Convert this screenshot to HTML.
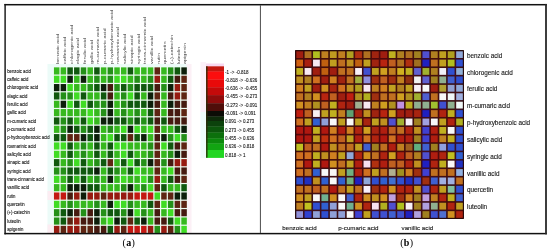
<!DOCTYPE html>
<html><head><meta charset="utf-8"><title>Correlation heatmaps</title>
<style>
html,body{margin:0;padding:0;background:#fff;}
body{width:550px;height:252px;overflow:hidden;}
svg{display:block;}
text{font-family:"Liberation Sans",Arial,sans-serif;fill:#1a1a1a;}
.rl{font-size:5.1px;stroke:#1a1a1a;stroke-width:0.12px;}
.cl{font-size:5.45px;fill:#3c3c3c;}
.lg{font-size:4.5px;stroke:#1a1a1a;stroke-width:0.1px;}
.rr{font-size:6.35px;stroke:#1a1a1a;stroke-width:0.12px;}
.rb{font-size:6.2px;stroke:#1a1a1a;stroke-width:0.12px;}
.cap{font-family:"Liberation Serif","Times New Roman",serif;font-size:10px;letter-spacing:0.35px;fill:#000;}
</style></head>
<body>
<svg width="550" height="252" viewBox="0 0 550 252">
<rect width="550" height="252" fill="#fff"/>
<rect x="47.5" y="64" width="142" height="169" fill="#ecfbf8"/>
<rect x="186.5" y="64" width="5" height="169" fill="#fcf0f6"/>
<rect x="47.5" y="191" width="6" height="9" fill="#fcecf2"/>
<rect x="47.5" y="224.5" width="6" height="8.5" fill="#fcecf2"/>
<rect x="200.5" y="62" width="5.5" height="50" fill="#fcf0f8"/>
<rect x="200.5" y="112" width="5.5" height="46" fill="#eefcfa"/>
<rect x="206" y="63.5" width="18" height="2.8" fill="#f8d8f0"/>
<rect x="53.34" y="66.76" width="134.08" height="166.24" fill="#eefcf2"/>
<rect x="53.94" y="67.36" width="5.5" height="7.14" fill="#36b81e"/>
<rect x="60.64" y="67.36" width="5.5" height="7.14" fill="#36b81e"/>
<rect x="67.35" y="67.36" width="5.5" height="7.14" fill="#10580e"/>
<rect x="74.05" y="67.36" width="5.5" height="7.14" fill="#10580e"/>
<rect x="80.76" y="67.36" width="5.5" height="7.14" fill="#249018"/>
<rect x="87.46" y="67.36" width="5.5" height="7.14" fill="#36b81e"/>
<rect x="94.16" y="67.36" width="5.5" height="7.14" fill="#10580e"/>
<rect x="100.87" y="67.36" width="5.5" height="7.14" fill="#36b81e"/>
<rect x="107.57" y="67.36" width="5.5" height="7.14" fill="#249018"/>
<rect x="114.28" y="67.36" width="5.5" height="7.14" fill="#36b81e"/>
<rect x="120.98" y="67.36" width="5.5" height="7.14" fill="#36b81e"/>
<rect x="127.68" y="67.36" width="5.5" height="7.14" fill="#10580e"/>
<rect x="134.39" y="67.36" width="5.5" height="7.14" fill="#36b81e"/>
<rect x="141.09" y="67.36" width="5.5" height="7.14" fill="#36b81e"/>
<rect x="147.8" y="67.36" width="5.5" height="7.14" fill="#36b81e"/>
<rect x="154.5" y="67.36" width="5.5" height="7.14" fill="#5e2412"/>
<rect x="161.2" y="67.36" width="5.5" height="7.14" fill="#36b81e"/>
<rect x="167.91" y="67.36" width="5.5" height="7.14" fill="#249018"/>
<rect x="174.61" y="67.36" width="5.5" height="7.14" fill="#10580e"/>
<rect x="181.32" y="67.36" width="5.5" height="7.14" fill="#0c1e0a"/>
<rect x="53.94" y="75.7" width="5.5" height="7.14" fill="#40dc24"/>
<rect x="60.64" y="75.7" width="5.5" height="7.14" fill="#40dc24"/>
<rect x="67.35" y="75.7" width="5.5" height="7.14" fill="#0c1e0a"/>
<rect x="74.05" y="75.7" width="5.5" height="7.14" fill="#36b81e"/>
<rect x="80.76" y="75.7" width="5.5" height="7.14" fill="#0c1e0a"/>
<rect x="87.46" y="75.7" width="5.5" height="7.14" fill="#36b81e"/>
<rect x="94.16" y="75.7" width="5.5" height="7.14" fill="#249018"/>
<rect x="100.87" y="75.7" width="5.5" height="7.14" fill="#36b81e"/>
<rect x="107.57" y="75.7" width="5.5" height="7.14" fill="#249018"/>
<rect x="114.28" y="75.7" width="5.5" height="7.14" fill="#40dc24"/>
<rect x="120.98" y="75.7" width="5.5" height="7.14" fill="#40dc24"/>
<rect x="127.68" y="75.7" width="5.5" height="7.14" fill="#36b81e"/>
<rect x="134.39" y="75.7" width="5.5" height="7.14" fill="#249018"/>
<rect x="141.09" y="75.7" width="5.5" height="7.14" fill="#36b81e"/>
<rect x="147.8" y="75.7" width="5.5" height="7.14" fill="#249018"/>
<rect x="154.5" y="75.7" width="5.5" height="7.14" fill="#961a10"/>
<rect x="161.2" y="75.7" width="5.5" height="7.14" fill="#36b81e"/>
<rect x="167.91" y="75.7" width="5.5" height="7.14" fill="#10580e"/>
<rect x="174.61" y="75.7" width="5.5" height="7.14" fill="#461a10"/>
<rect x="181.32" y="75.7" width="5.5" height="7.14" fill="#5e2412"/>
<rect x="53.94" y="84.04" width="5.5" height="7.14" fill="#0c1e0a"/>
<rect x="60.64" y="84.04" width="5.5" height="7.14" fill="#0c1e0a"/>
<rect x="67.35" y="84.04" width="5.5" height="7.14" fill="#40dc24"/>
<rect x="74.05" y="84.04" width="5.5" height="7.14" fill="#36b81e"/>
<rect x="80.76" y="84.04" width="5.5" height="7.14" fill="#36b81e"/>
<rect x="87.46" y="84.04" width="5.5" height="7.14" fill="#249018"/>
<rect x="94.16" y="84.04" width="5.5" height="7.14" fill="#10580e"/>
<rect x="100.87" y="84.04" width="5.5" height="7.14" fill="#0c1e0a"/>
<rect x="107.57" y="84.04" width="5.5" height="7.14" fill="#461a10"/>
<rect x="114.28" y="84.04" width="5.5" height="7.14" fill="#249018"/>
<rect x="120.98" y="84.04" width="5.5" height="7.14" fill="#10580e"/>
<rect x="127.68" y="84.04" width="5.5" height="7.14" fill="#249018"/>
<rect x="134.39" y="84.04" width="5.5" height="7.14" fill="#10580e"/>
<rect x="141.09" y="84.04" width="5.5" height="7.14" fill="#10580e"/>
<rect x="147.8" y="84.04" width="5.5" height="7.14" fill="#10580e"/>
<rect x="154.5" y="84.04" width="5.5" height="7.14" fill="#461a10"/>
<rect x="161.2" y="84.04" width="5.5" height="7.14" fill="#249018"/>
<rect x="167.91" y="84.04" width="5.5" height="7.14" fill="#0c1e0a"/>
<rect x="174.61" y="84.04" width="5.5" height="7.14" fill="#961a10"/>
<rect x="181.32" y="84.04" width="5.5" height="7.14" fill="#5e2412"/>
<rect x="53.94" y="92.38" width="5.5" height="7.14" fill="#10580e"/>
<rect x="60.64" y="92.38" width="5.5" height="7.14" fill="#249018"/>
<rect x="67.35" y="92.38" width="5.5" height="7.14" fill="#249018"/>
<rect x="74.05" y="92.38" width="5.5" height="7.14" fill="#40dc24"/>
<rect x="80.76" y="92.38" width="5.5" height="7.14" fill="#10580e"/>
<rect x="87.46" y="92.38" width="5.5" height="7.14" fill="#36b81e"/>
<rect x="94.16" y="92.38" width="5.5" height="7.14" fill="#36b81e"/>
<rect x="100.87" y="92.38" width="5.5" height="7.14" fill="#10580e"/>
<rect x="107.57" y="92.38" width="5.5" height="7.14" fill="#461a10"/>
<rect x="114.28" y="92.38" width="5.5" height="7.14" fill="#36b81e"/>
<rect x="120.98" y="92.38" width="5.5" height="7.14" fill="#249018"/>
<rect x="127.68" y="92.38" width="5.5" height="7.14" fill="#40dc24"/>
<rect x="134.39" y="92.38" width="5.5" height="7.14" fill="#10580e"/>
<rect x="141.09" y="92.38" width="5.5" height="7.14" fill="#36b81e"/>
<rect x="147.8" y="92.38" width="5.5" height="7.14" fill="#0c1e0a"/>
<rect x="154.5" y="92.38" width="5.5" height="7.14" fill="#5e2412"/>
<rect x="161.2" y="92.38" width="5.5" height="7.14" fill="#36b81e"/>
<rect x="167.91" y="92.38" width="5.5" height="7.14" fill="#461a10"/>
<rect x="174.61" y="92.38" width="5.5" height="7.14" fill="#961a10"/>
<rect x="181.32" y="92.38" width="5.5" height="7.14" fill="#5e2412"/>
<rect x="53.94" y="100.72" width="5.5" height="7.14" fill="#36b81e"/>
<rect x="60.64" y="100.72" width="5.5" height="7.14" fill="#0c1e0a"/>
<rect x="67.35" y="100.72" width="5.5" height="7.14" fill="#40dc24"/>
<rect x="74.05" y="100.72" width="5.5" height="7.14" fill="#10580e"/>
<rect x="80.76" y="100.72" width="5.5" height="7.14" fill="#40dc24"/>
<rect x="87.46" y="100.72" width="5.5" height="7.14" fill="#10580e"/>
<rect x="94.16" y="100.72" width="5.5" height="7.14" fill="#249018"/>
<rect x="100.87" y="100.72" width="5.5" height="7.14" fill="#249018"/>
<rect x="107.57" y="100.72" width="5.5" height="7.14" fill="#0c1e0a"/>
<rect x="114.28" y="100.72" width="5.5" height="7.14" fill="#36b81e"/>
<rect x="120.98" y="100.72" width="5.5" height="7.14" fill="#249018"/>
<rect x="127.68" y="100.72" width="5.5" height="7.14" fill="#10580e"/>
<rect x="134.39" y="100.72" width="5.5" height="7.14" fill="#10580e"/>
<rect x="141.09" y="100.72" width="5.5" height="7.14" fill="#10580e"/>
<rect x="147.8" y="100.72" width="5.5" height="7.14" fill="#0c1e0a"/>
<rect x="154.5" y="100.72" width="5.5" height="7.14" fill="#461a10"/>
<rect x="161.2" y="100.72" width="5.5" height="7.14" fill="#36b81e"/>
<rect x="167.91" y="100.72" width="5.5" height="7.14" fill="#0c1e0a"/>
<rect x="174.61" y="100.72" width="5.5" height="7.14" fill="#461a10"/>
<rect x="181.32" y="100.72" width="5.5" height="7.14" fill="#461a10"/>
<rect x="53.94" y="109.06" width="5.5" height="7.14" fill="#36b81e"/>
<rect x="60.64" y="109.06" width="5.5" height="7.14" fill="#36b81e"/>
<rect x="67.35" y="109.06" width="5.5" height="7.14" fill="#36b81e"/>
<rect x="74.05" y="109.06" width="5.5" height="7.14" fill="#36b81e"/>
<rect x="80.76" y="109.06" width="5.5" height="7.14" fill="#36b81e"/>
<rect x="87.46" y="109.06" width="5.5" height="7.14" fill="#40dc24"/>
<rect x="94.16" y="109.06" width="5.5" height="7.14" fill="#36b81e"/>
<rect x="100.87" y="109.06" width="5.5" height="7.14" fill="#249018"/>
<rect x="107.57" y="109.06" width="5.5" height="7.14" fill="#0c1e0a"/>
<rect x="114.28" y="109.06" width="5.5" height="7.14" fill="#36b81e"/>
<rect x="120.98" y="109.06" width="5.5" height="7.14" fill="#249018"/>
<rect x="127.68" y="109.06" width="5.5" height="7.14" fill="#36b81e"/>
<rect x="134.39" y="109.06" width="5.5" height="7.14" fill="#249018"/>
<rect x="141.09" y="109.06" width="5.5" height="7.14" fill="#36b81e"/>
<rect x="147.8" y="109.06" width="5.5" height="7.14" fill="#10580e"/>
<rect x="154.5" y="109.06" width="5.5" height="7.14" fill="#5e2412"/>
<rect x="161.2" y="109.06" width="5.5" height="7.14" fill="#36b81e"/>
<rect x="167.91" y="109.06" width="5.5" height="7.14" fill="#461a10"/>
<rect x="174.61" y="109.06" width="5.5" height="7.14" fill="#461a10"/>
<rect x="181.32" y="109.06" width="5.5" height="7.14" fill="#5e2412"/>
<rect x="53.94" y="117.4" width="5.5" height="7.14" fill="#10580e"/>
<rect x="60.64" y="117.4" width="5.5" height="7.14" fill="#249018"/>
<rect x="67.35" y="117.4" width="5.5" height="7.14" fill="#10580e"/>
<rect x="74.05" y="117.4" width="5.5" height="7.14" fill="#36b81e"/>
<rect x="80.76" y="117.4" width="5.5" height="7.14" fill="#10580e"/>
<rect x="87.46" y="117.4" width="5.5" height="7.14" fill="#40dc24"/>
<rect x="94.16" y="117.4" width="5.5" height="7.14" fill="#36b81e"/>
<rect x="100.87" y="117.4" width="5.5" height="7.14" fill="#0c1e0a"/>
<rect x="107.57" y="117.4" width="5.5" height="7.14" fill="#0c1e0a"/>
<rect x="114.28" y="117.4" width="5.5" height="7.14" fill="#10580e"/>
<rect x="120.98" y="117.4" width="5.5" height="7.14" fill="#10580e"/>
<rect x="127.68" y="117.4" width="5.5" height="7.14" fill="#249018"/>
<rect x="134.39" y="117.4" width="5.5" height="7.14" fill="#10580e"/>
<rect x="141.09" y="117.4" width="5.5" height="7.14" fill="#249018"/>
<rect x="147.8" y="117.4" width="5.5" height="7.14" fill="#10580e"/>
<rect x="154.5" y="117.4" width="5.5" height="7.14" fill="#461a10"/>
<rect x="161.2" y="117.4" width="5.5" height="7.14" fill="#10580e"/>
<rect x="167.91" y="117.4" width="5.5" height="7.14" fill="#461a10"/>
<rect x="174.61" y="117.4" width="5.5" height="7.14" fill="#461a10"/>
<rect x="181.32" y="117.4" width="5.5" height="7.14" fill="#461a10"/>
<rect x="53.94" y="125.74" width="5.5" height="7.14" fill="#36b81e"/>
<rect x="60.64" y="125.74" width="5.5" height="7.14" fill="#249018"/>
<rect x="67.35" y="125.74" width="5.5" height="7.14" fill="#0c1e0a"/>
<rect x="74.05" y="125.74" width="5.5" height="7.14" fill="#10580e"/>
<rect x="80.76" y="125.74" width="5.5" height="7.14" fill="#249018"/>
<rect x="87.46" y="125.74" width="5.5" height="7.14" fill="#10580e"/>
<rect x="94.16" y="125.74" width="5.5" height="7.14" fill="#0c1e0a"/>
<rect x="100.87" y="125.74" width="5.5" height="7.14" fill="#36b81e"/>
<rect x="107.57" y="125.74" width="5.5" height="7.14" fill="#249018"/>
<rect x="114.28" y="125.74" width="5.5" height="7.14" fill="#36b81e"/>
<rect x="120.98" y="125.74" width="5.5" height="7.14" fill="#40dc24"/>
<rect x="127.68" y="125.74" width="5.5" height="7.14" fill="#0c1e0a"/>
<rect x="134.39" y="125.74" width="5.5" height="7.14" fill="#40dc24"/>
<rect x="141.09" y="125.74" width="5.5" height="7.14" fill="#36b81e"/>
<rect x="147.8" y="125.74" width="5.5" height="7.14" fill="#40dc24"/>
<rect x="154.5" y="125.74" width="5.5" height="7.14" fill="#5e2412"/>
<rect x="161.2" y="125.74" width="5.5" height="7.14" fill="#36b81e"/>
<rect x="167.91" y="125.74" width="5.5" height="7.14" fill="#36b81e"/>
<rect x="174.61" y="125.74" width="5.5" height="7.14" fill="#10580e"/>
<rect x="181.32" y="125.74" width="5.5" height="7.14" fill="#0c1e0a"/>
<rect x="53.94" y="134.08" width="5.5" height="7.14" fill="#10580e"/>
<rect x="60.64" y="134.08" width="5.5" height="7.14" fill="#10580e"/>
<rect x="67.35" y="134.08" width="5.5" height="7.14" fill="#5e2412"/>
<rect x="74.05" y="134.08" width="5.5" height="7.14" fill="#5e2412"/>
<rect x="80.76" y="134.08" width="5.5" height="7.14" fill="#0c1e0a"/>
<rect x="87.46" y="134.08" width="5.5" height="7.14" fill="#10580e"/>
<rect x="94.16" y="134.08" width="5.5" height="7.14" fill="#0c1e0a"/>
<rect x="100.87" y="134.08" width="5.5" height="7.14" fill="#36b81e"/>
<rect x="107.57" y="134.08" width="5.5" height="7.14" fill="#40dc24"/>
<rect x="114.28" y="134.08" width="5.5" height="7.14" fill="#10580e"/>
<rect x="120.98" y="134.08" width="5.5" height="7.14" fill="#10580e"/>
<rect x="127.68" y="134.08" width="5.5" height="7.14" fill="#5e2412"/>
<rect x="134.39" y="134.08" width="5.5" height="7.14" fill="#10580e"/>
<rect x="141.09" y="134.08" width="5.5" height="7.14" fill="#0c1e0a"/>
<rect x="147.8" y="134.08" width="5.5" height="7.14" fill="#36b81e"/>
<rect x="154.5" y="134.08" width="5.5" height="7.14" fill="#461a10"/>
<rect x="161.2" y="134.08" width="5.5" height="7.14" fill="#0c1e0a"/>
<rect x="167.91" y="134.08" width="5.5" height="7.14" fill="#249018"/>
<rect x="174.61" y="134.08" width="5.5" height="7.14" fill="#40dc24"/>
<rect x="181.32" y="134.08" width="5.5" height="7.14" fill="#249018"/>
<rect x="53.94" y="142.42" width="5.5" height="7.14" fill="#40dc24"/>
<rect x="60.64" y="142.42" width="5.5" height="7.14" fill="#40dc24"/>
<rect x="67.35" y="142.42" width="5.5" height="7.14" fill="#10580e"/>
<rect x="74.05" y="142.42" width="5.5" height="7.14" fill="#36b81e"/>
<rect x="80.76" y="142.42" width="5.5" height="7.14" fill="#249018"/>
<rect x="87.46" y="142.42" width="5.5" height="7.14" fill="#36b81e"/>
<rect x="94.16" y="142.42" width="5.5" height="7.14" fill="#10580e"/>
<rect x="100.87" y="142.42" width="5.5" height="7.14" fill="#36b81e"/>
<rect x="107.57" y="142.42" width="5.5" height="7.14" fill="#10580e"/>
<rect x="114.28" y="142.42" width="5.5" height="7.14" fill="#40dc24"/>
<rect x="120.98" y="142.42" width="5.5" height="7.14" fill="#40dc24"/>
<rect x="127.68" y="142.42" width="5.5" height="7.14" fill="#36b81e"/>
<rect x="134.39" y="142.42" width="5.5" height="7.14" fill="#36b81e"/>
<rect x="141.09" y="142.42" width="5.5" height="7.14" fill="#36b81e"/>
<rect x="147.8" y="142.42" width="5.5" height="7.14" fill="#249018"/>
<rect x="154.5" y="142.42" width="5.5" height="7.14" fill="#5e2412"/>
<rect x="161.2" y="142.42" width="5.5" height="7.14" fill="#40dc24"/>
<rect x="167.91" y="142.42" width="5.5" height="7.14" fill="#10580e"/>
<rect x="174.61" y="142.42" width="5.5" height="7.14" fill="#461a10"/>
<rect x="181.32" y="142.42" width="5.5" height="7.14" fill="#5e2412"/>
<rect x="53.94" y="150.76" width="5.5" height="7.14" fill="#40dc24"/>
<rect x="60.64" y="150.76" width="5.5" height="7.14" fill="#36b81e"/>
<rect x="67.35" y="150.76" width="5.5" height="7.14" fill="#10580e"/>
<rect x="74.05" y="150.76" width="5.5" height="7.14" fill="#36b81e"/>
<rect x="80.76" y="150.76" width="5.5" height="7.14" fill="#249018"/>
<rect x="87.46" y="150.76" width="5.5" height="7.14" fill="#36b81e"/>
<rect x="94.16" y="150.76" width="5.5" height="7.14" fill="#10580e"/>
<rect x="100.87" y="150.76" width="5.5" height="7.14" fill="#36b81e"/>
<rect x="107.57" y="150.76" width="5.5" height="7.14" fill="#10580e"/>
<rect x="114.28" y="150.76" width="5.5" height="7.14" fill="#36b81e"/>
<rect x="120.98" y="150.76" width="5.5" height="7.14" fill="#40dc24"/>
<rect x="127.68" y="150.76" width="5.5" height="7.14" fill="#10580e"/>
<rect x="134.39" y="150.76" width="5.5" height="7.14" fill="#36b81e"/>
<rect x="141.09" y="150.76" width="5.5" height="7.14" fill="#36b81e"/>
<rect x="147.8" y="150.76" width="5.5" height="7.14" fill="#249018"/>
<rect x="154.5" y="150.76" width="5.5" height="7.14" fill="#5e2412"/>
<rect x="161.2" y="150.76" width="5.5" height="7.14" fill="#36b81e"/>
<rect x="167.91" y="150.76" width="5.5" height="7.14" fill="#249018"/>
<rect x="174.61" y="150.76" width="5.5" height="7.14" fill="#0c1e0a"/>
<rect x="181.32" y="150.76" width="5.5" height="7.14" fill="#461a10"/>
<rect x="53.94" y="159.1" width="5.5" height="7.14" fill="#10580e"/>
<rect x="60.64" y="159.1" width="5.5" height="7.14" fill="#36b81e"/>
<rect x="67.35" y="159.1" width="5.5" height="7.14" fill="#249018"/>
<rect x="74.05" y="159.1" width="5.5" height="7.14" fill="#40dc24"/>
<rect x="80.76" y="159.1" width="5.5" height="7.14" fill="#10580e"/>
<rect x="87.46" y="159.1" width="5.5" height="7.14" fill="#36b81e"/>
<rect x="94.16" y="159.1" width="5.5" height="7.14" fill="#249018"/>
<rect x="100.87" y="159.1" width="5.5" height="7.14" fill="#10580e"/>
<rect x="107.57" y="159.1" width="5.5" height="7.14" fill="#5e2412"/>
<rect x="114.28" y="159.1" width="5.5" height="7.14" fill="#36b81e"/>
<rect x="120.98" y="159.1" width="5.5" height="7.14" fill="#10580e"/>
<rect x="127.68" y="159.1" width="5.5" height="7.14" fill="#40dc24"/>
<rect x="134.39" y="159.1" width="5.5" height="7.14" fill="#10580e"/>
<rect x="141.09" y="159.1" width="5.5" height="7.14" fill="#249018"/>
<rect x="147.8" y="159.1" width="5.5" height="7.14" fill="#0c1e0a"/>
<rect x="154.5" y="159.1" width="5.5" height="7.14" fill="#5e2412"/>
<rect x="161.2" y="159.1" width="5.5" height="7.14" fill="#249018"/>
<rect x="167.91" y="159.1" width="5.5" height="7.14" fill="#461a10"/>
<rect x="174.61" y="159.1" width="5.5" height="7.14" fill="#961a10"/>
<rect x="181.32" y="159.1" width="5.5" height="7.14" fill="#961a10"/>
<rect x="53.94" y="167.44" width="5.5" height="7.14" fill="#249018"/>
<rect x="60.64" y="167.44" width="5.5" height="7.14" fill="#249018"/>
<rect x="67.35" y="167.44" width="5.5" height="7.14" fill="#10580e"/>
<rect x="74.05" y="167.44" width="5.5" height="7.14" fill="#10580e"/>
<rect x="80.76" y="167.44" width="5.5" height="7.14" fill="#10580e"/>
<rect x="87.46" y="167.44" width="5.5" height="7.14" fill="#10580e"/>
<rect x="94.16" y="167.44" width="5.5" height="7.14" fill="#0c1e0a"/>
<rect x="100.87" y="167.44" width="5.5" height="7.14" fill="#36b81e"/>
<rect x="107.57" y="167.44" width="5.5" height="7.14" fill="#10580e"/>
<rect x="114.28" y="167.44" width="5.5" height="7.14" fill="#249018"/>
<rect x="120.98" y="167.44" width="5.5" height="7.14" fill="#36b81e"/>
<rect x="127.68" y="167.44" width="5.5" height="7.14" fill="#10580e"/>
<rect x="134.39" y="167.44" width="5.5" height="7.14" fill="#40dc24"/>
<rect x="141.09" y="167.44" width="5.5" height="7.14" fill="#36b81e"/>
<rect x="147.8" y="167.44" width="5.5" height="7.14" fill="#36b81e"/>
<rect x="154.5" y="167.44" width="5.5" height="7.14" fill="#5e2412"/>
<rect x="161.2" y="167.44" width="5.5" height="7.14" fill="#36b81e"/>
<rect x="167.91" y="167.44" width="5.5" height="7.14" fill="#40dc24"/>
<rect x="174.61" y="167.44" width="5.5" height="7.14" fill="#461a10"/>
<rect x="181.32" y="167.44" width="5.5" height="7.14" fill="#461a10"/>
<rect x="53.94" y="175.78" width="5.5" height="7.14" fill="#40dc24"/>
<rect x="60.64" y="175.78" width="5.5" height="7.14" fill="#36b81e"/>
<rect x="67.35" y="175.78" width="5.5" height="7.14" fill="#10580e"/>
<rect x="74.05" y="175.78" width="5.5" height="7.14" fill="#36b81e"/>
<rect x="80.76" y="175.78" width="5.5" height="7.14" fill="#10580e"/>
<rect x="87.46" y="175.78" width="5.5" height="7.14" fill="#36b81e"/>
<rect x="94.16" y="175.78" width="5.5" height="7.14" fill="#249018"/>
<rect x="100.87" y="175.78" width="5.5" height="7.14" fill="#36b81e"/>
<rect x="107.57" y="175.78" width="5.5" height="7.14" fill="#0c1e0a"/>
<rect x="114.28" y="175.78" width="5.5" height="7.14" fill="#36b81e"/>
<rect x="120.98" y="175.78" width="5.5" height="7.14" fill="#40dc24"/>
<rect x="127.68" y="175.78" width="5.5" height="7.14" fill="#36b81e"/>
<rect x="134.39" y="175.78" width="5.5" height="7.14" fill="#36b81e"/>
<rect x="141.09" y="175.78" width="5.5" height="7.14" fill="#40dc24"/>
<rect x="147.8" y="175.78" width="5.5" height="7.14" fill="#249018"/>
<rect x="154.5" y="175.78" width="5.5" height="7.14" fill="#961a10"/>
<rect x="161.2" y="175.78" width="5.5" height="7.14" fill="#36b81e"/>
<rect x="167.91" y="175.78" width="5.5" height="7.14" fill="#10580e"/>
<rect x="174.61" y="175.78" width="5.5" height="7.14" fill="#461a10"/>
<rect x="181.32" y="175.78" width="5.5" height="7.14" fill="#5e2412"/>
<rect x="53.94" y="184.12" width="5.5" height="7.14" fill="#36b81e"/>
<rect x="60.64" y="184.12" width="5.5" height="7.14" fill="#36b81e"/>
<rect x="67.35" y="184.12" width="5.5" height="7.14" fill="#0c1e0a"/>
<rect x="74.05" y="184.12" width="5.5" height="7.14" fill="#0c1e0a"/>
<rect x="80.76" y="184.12" width="5.5" height="7.14" fill="#0c1e0a"/>
<rect x="87.46" y="184.12" width="5.5" height="7.14" fill="#10580e"/>
<rect x="94.16" y="184.12" width="5.5" height="7.14" fill="#10580e"/>
<rect x="100.87" y="184.12" width="5.5" height="7.14" fill="#36b81e"/>
<rect x="107.57" y="184.12" width="5.5" height="7.14" fill="#36b81e"/>
<rect x="114.28" y="184.12" width="5.5" height="7.14" fill="#36b81e"/>
<rect x="120.98" y="184.12" width="5.5" height="7.14" fill="#249018"/>
<rect x="127.68" y="184.12" width="5.5" height="7.14" fill="#0c1e0a"/>
<rect x="134.39" y="184.12" width="5.5" height="7.14" fill="#36b81e"/>
<rect x="141.09" y="184.12" width="5.5" height="7.14" fill="#249018"/>
<rect x="147.8" y="184.12" width="5.5" height="7.14" fill="#40dc24"/>
<rect x="154.5" y="184.12" width="5.5" height="7.14" fill="#5e2412"/>
<rect x="161.2" y="184.12" width="5.5" height="7.14" fill="#10580e"/>
<rect x="167.91" y="184.12" width="5.5" height="7.14" fill="#36b81e"/>
<rect x="174.61" y="184.12" width="5.5" height="7.14" fill="#36b81e"/>
<rect x="181.32" y="184.12" width="5.5" height="7.14" fill="#10580e"/>
<rect x="53.94" y="192.46" width="5.5" height="7.14" fill="#c41812"/>
<rect x="60.64" y="192.46" width="5.5" height="7.14" fill="#c41812"/>
<rect x="67.35" y="192.46" width="5.5" height="7.14" fill="#461a10"/>
<rect x="74.05" y="192.46" width="5.5" height="7.14" fill="#961a10"/>
<rect x="80.76" y="192.46" width="5.5" height="7.14" fill="#0c1e0a"/>
<rect x="87.46" y="192.46" width="5.5" height="7.14" fill="#961a10"/>
<rect x="94.16" y="192.46" width="5.5" height="7.14" fill="#961a10"/>
<rect x="100.87" y="192.46" width="5.5" height="7.14" fill="#5e2412"/>
<rect x="107.57" y="192.46" width="5.5" height="7.14" fill="#961a10"/>
<rect x="114.28" y="192.46" width="5.5" height="7.14" fill="#961a10"/>
<rect x="120.98" y="192.46" width="5.5" height="7.14" fill="#961a10"/>
<rect x="127.68" y="192.46" width="5.5" height="7.14" fill="#961a10"/>
<rect x="134.39" y="192.46" width="5.5" height="7.14" fill="#c41812"/>
<rect x="141.09" y="192.46" width="5.5" height="7.14" fill="#c41812"/>
<rect x="147.8" y="192.46" width="5.5" height="7.14" fill="#c41812"/>
<rect x="154.5" y="192.46" width="5.5" height="7.14" fill="#40dc24"/>
<rect x="161.2" y="192.46" width="5.5" height="7.14" fill="#5e2412"/>
<rect x="167.91" y="192.46" width="5.5" height="7.14" fill="#5e2412"/>
<rect x="174.61" y="192.46" width="5.5" height="7.14" fill="#0c1e0a"/>
<rect x="181.32" y="192.46" width="5.5" height="7.14" fill="#0c1e0a"/>
<rect x="53.94" y="200.8" width="5.5" height="7.14" fill="#40dc24"/>
<rect x="60.64" y="200.8" width="5.5" height="7.14" fill="#36b81e"/>
<rect x="67.35" y="200.8" width="5.5" height="7.14" fill="#249018"/>
<rect x="74.05" y="200.8" width="5.5" height="7.14" fill="#36b81e"/>
<rect x="80.76" y="200.8" width="5.5" height="7.14" fill="#36b81e"/>
<rect x="87.46" y="200.8" width="5.5" height="7.14" fill="#36b81e"/>
<rect x="94.16" y="200.8" width="5.5" height="7.14" fill="#249018"/>
<rect x="100.87" y="200.8" width="5.5" height="7.14" fill="#36b81e"/>
<rect x="107.57" y="200.8" width="5.5" height="7.14" fill="#0c1e0a"/>
<rect x="114.28" y="200.8" width="5.5" height="7.14" fill="#40dc24"/>
<rect x="120.98" y="200.8" width="5.5" height="7.14" fill="#40dc24"/>
<rect x="127.68" y="200.8" width="5.5" height="7.14" fill="#249018"/>
<rect x="134.39" y="200.8" width="5.5" height="7.14" fill="#36b81e"/>
<rect x="141.09" y="200.8" width="5.5" height="7.14" fill="#36b81e"/>
<rect x="147.8" y="200.8" width="5.5" height="7.14" fill="#10580e"/>
<rect x="154.5" y="200.8" width="5.5" height="7.14" fill="#5e2412"/>
<rect x="161.2" y="200.8" width="5.5" height="7.14" fill="#40dc24"/>
<rect x="167.91" y="200.8" width="5.5" height="7.14" fill="#249018"/>
<rect x="174.61" y="200.8" width="5.5" height="7.14" fill="#5e2412"/>
<rect x="181.32" y="200.8" width="5.5" height="7.14" fill="#5e2412"/>
<rect x="53.94" y="209.14" width="5.5" height="7.14" fill="#249018"/>
<rect x="60.64" y="209.14" width="5.5" height="7.14" fill="#10580e"/>
<rect x="67.35" y="209.14" width="5.5" height="7.14" fill="#0c1e0a"/>
<rect x="74.05" y="209.14" width="5.5" height="7.14" fill="#461a10"/>
<rect x="80.76" y="209.14" width="5.5" height="7.14" fill="#249018"/>
<rect x="87.46" y="209.14" width="5.5" height="7.14" fill="#461a10"/>
<rect x="94.16" y="209.14" width="5.5" height="7.14" fill="#0c1e0a"/>
<rect x="100.87" y="209.14" width="5.5" height="7.14" fill="#249018"/>
<rect x="107.57" y="209.14" width="5.5" height="7.14" fill="#10580e"/>
<rect x="114.28" y="209.14" width="5.5" height="7.14" fill="#10580e"/>
<rect x="120.98" y="209.14" width="5.5" height="7.14" fill="#249018"/>
<rect x="127.68" y="209.14" width="5.5" height="7.14" fill="#0c1e0a"/>
<rect x="134.39" y="209.14" width="5.5" height="7.14" fill="#40dc24"/>
<rect x="141.09" y="209.14" width="5.5" height="7.14" fill="#249018"/>
<rect x="147.8" y="209.14" width="5.5" height="7.14" fill="#36b81e"/>
<rect x="154.5" y="209.14" width="5.5" height="7.14" fill="#461a10"/>
<rect x="161.2" y="209.14" width="5.5" height="7.14" fill="#36b81e"/>
<rect x="167.91" y="209.14" width="5.5" height="7.14" fill="#40dc24"/>
<rect x="174.61" y="209.14" width="5.5" height="7.14" fill="#461a10"/>
<rect x="181.32" y="209.14" width="5.5" height="7.14" fill="#461a10"/>
<rect x="53.94" y="217.48" width="5.5" height="7.14" fill="#249018"/>
<rect x="60.64" y="217.48" width="5.5" height="7.14" fill="#10580e"/>
<rect x="67.35" y="217.48" width="5.5" height="7.14" fill="#5e2412"/>
<rect x="74.05" y="217.48" width="5.5" height="7.14" fill="#961a10"/>
<rect x="80.76" y="217.48" width="5.5" height="7.14" fill="#461a10"/>
<rect x="87.46" y="217.48" width="5.5" height="7.14" fill="#461a10"/>
<rect x="94.16" y="217.48" width="5.5" height="7.14" fill="#0c1e0a"/>
<rect x="100.87" y="217.48" width="5.5" height="7.14" fill="#36b81e"/>
<rect x="107.57" y="217.48" width="5.5" height="7.14" fill="#40dc24"/>
<rect x="114.28" y="217.48" width="5.5" height="7.14" fill="#0c1e0a"/>
<rect x="120.98" y="217.48" width="5.5" height="7.14" fill="#10580e"/>
<rect x="127.68" y="217.48" width="5.5" height="7.14" fill="#5e2412"/>
<rect x="134.39" y="217.48" width="5.5" height="7.14" fill="#10580e"/>
<rect x="141.09" y="217.48" width="5.5" height="7.14" fill="#0c1e0a"/>
<rect x="147.8" y="217.48" width="5.5" height="7.14" fill="#36b81e"/>
<rect x="154.5" y="217.48" width="5.5" height="7.14" fill="#461a10"/>
<rect x="161.2" y="217.48" width="5.5" height="7.14" fill="#461a10"/>
<rect x="167.91" y="217.48" width="5.5" height="7.14" fill="#10580e"/>
<rect x="174.61" y="217.48" width="5.5" height="7.14" fill="#40dc24"/>
<rect x="181.32" y="217.48" width="5.5" height="7.14" fill="#36b81e"/>
<rect x="53.94" y="225.82" width="5.5" height="7.14" fill="#961a10"/>
<rect x="60.64" y="225.82" width="5.5" height="7.14" fill="#5e2412"/>
<rect x="67.35" y="225.82" width="5.5" height="7.14" fill="#961a10"/>
<rect x="74.05" y="225.82" width="5.5" height="7.14" fill="#961a10"/>
<rect x="80.76" y="225.82" width="5.5" height="7.14" fill="#5e2412"/>
<rect x="87.46" y="225.82" width="5.5" height="7.14" fill="#5e2412"/>
<rect x="94.16" y="225.82" width="5.5" height="7.14" fill="#461a10"/>
<rect x="100.87" y="225.82" width="5.5" height="7.14" fill="#461a10"/>
<rect x="107.57" y="225.82" width="5.5" height="7.14" fill="#10580e"/>
<rect x="114.28" y="225.82" width="5.5" height="7.14" fill="#961a10"/>
<rect x="120.98" y="225.82" width="5.5" height="7.14" fill="#5e2412"/>
<rect x="127.68" y="225.82" width="5.5" height="7.14" fill="#c41812"/>
<rect x="134.39" y="225.82" width="5.5" height="7.14" fill="#c41812"/>
<rect x="141.09" y="225.82" width="5.5" height="7.14" fill="#c41812"/>
<rect x="147.8" y="225.82" width="5.5" height="7.14" fill="#961a10"/>
<rect x="154.5" y="225.82" width="5.5" height="7.14" fill="#249018"/>
<rect x="161.2" y="225.82" width="5.5" height="7.14" fill="#961a10"/>
<rect x="167.91" y="225.82" width="5.5" height="7.14" fill="#5e2412"/>
<rect x="174.61" y="225.82" width="5.5" height="7.14" fill="#249018"/>
<rect x="181.32" y="225.82" width="5.5" height="7.14" fill="#40dc24"/>
<text transform="translate(7.2,72.7) scale(0.84,1)" class="rl">benzoic acid</text>
<text transform="translate(7.2,81.03) scale(0.84,1)" class="rl">caffeic acid</text>
<text transform="translate(7.2,89.36) scale(0.84,1)" class="rl">chlorogenic acid</text>
<text transform="translate(7.2,97.69) scale(0.84,1)" class="rl">elagic acid</text>
<text transform="translate(7.2,106.02) scale(0.84,1)" class="rl">ferulic acid</text>
<text transform="translate(7.2,114.35) scale(0.84,1)" class="rl">gallic acid</text>
<text transform="translate(7.2,122.68) scale(0.84,1)" class="rl">m-cumaric acid</text>
<text transform="translate(7.2,131.01) scale(0.84,1)" class="rl">p-cumaric acid</text>
<text transform="translate(7.2,139.34) scale(0.84,1)" class="rl">p-hydroxybenzoic acid</text>
<text transform="translate(7.2,147.67) scale(0.84,1)" class="rl">rosmarinic acid</text>
<text transform="translate(7.2,156) scale(0.84,1)" class="rl">salicylic acid</text>
<text transform="translate(7.2,164.33) scale(0.84,1)" class="rl">sinapic acid</text>
<text transform="translate(7.2,172.66) scale(0.84,1)" class="rl">syringic acid</text>
<text transform="translate(7.2,180.99) scale(0.84,1)" class="rl">trans-cinnamic acid</text>
<text transform="translate(7.2,189.32) scale(0.84,1)" class="rl">vanillic acid</text>
<text transform="translate(7.2,197.65) scale(0.84,1)" class="rl">rutin</text>
<text transform="translate(7.2,205.98) scale(0.84,1)" class="rl">quercetin</text>
<text transform="translate(7.2,214.31) scale(0.84,1)" class="rl">(+)-catechin</text>
<text transform="translate(7.2,222.64) scale(0.84,1)" class="rl">luteolin</text>
<text transform="translate(7.2,230.97) scale(0.84,1)" class="rl">apigenin</text>
<text transform="translate(59.09,63.9) rotate(-90) scale(1,0.74)" class="cl">benzoic acid</text>
<text transform="translate(65.8,63.9) rotate(-90) scale(1,0.74)" class="cl">caffeic acid</text>
<text transform="translate(72.5,63.9) rotate(-90) scale(1,0.74)" class="cl">chlorogenic acid</text>
<text transform="translate(79.2,63.9) rotate(-90) scale(1,0.74)" class="cl">elagic acid</text>
<text transform="translate(85.91,63.9) rotate(-90) scale(1,0.74)" class="cl">ferulic acid</text>
<text transform="translate(92.61,63.9) rotate(-90) scale(1,0.74)" class="cl">gallic acid</text>
<text transform="translate(99.32,63.9) rotate(-90) scale(1,0.74)" class="cl">m-cumaric acid</text>
<text transform="translate(106.02,63.9) rotate(-90) scale(1,0.74)" class="cl">p-cumaric acid</text>
<text transform="translate(112.72,63.9) rotate(-90) scale(1,0.74)" class="cl">p-hydroxybenzoic acid</text>
<text transform="translate(119.43,63.9) rotate(-90) scale(1,0.74)" class="cl">rosmarinic acid</text>
<text transform="translate(126.13,63.9) rotate(-90) scale(1,0.74)" class="cl">salicylic acid</text>
<text transform="translate(132.84,63.9) rotate(-90) scale(1,0.74)" class="cl">sinapic acid</text>
<text transform="translate(139.54,63.9) rotate(-90) scale(1,0.74)" class="cl">syringic acid</text>
<text transform="translate(146.24,63.9) rotate(-90) scale(1,0.74)" class="cl">trans-cinnamic acid</text>
<text transform="translate(152.95,63.9) rotate(-90) scale(1,0.74)" class="cl">vanillic acid</text>
<text transform="translate(159.65,63.9) rotate(-90) scale(1,0.74)" class="cl">rutin</text>
<text transform="translate(166.36,63.9) rotate(-90) scale(1,0.74)" class="cl">quercetin</text>
<text transform="translate(173.06,63.9) rotate(-90) scale(1,0.74)" class="cl">(+)-catechin</text>
<text transform="translate(179.76,63.9) rotate(-90) scale(1,0.74)" class="cl">luteolin</text>
<text transform="translate(186.47,63.9) rotate(-90) scale(1,0.74)" class="cl">apigenin</text>
<rect x="206" y="66.3" width="18" height="5.5" fill="#c41810"/>
<rect x="206" y="71.5" width="18" height="8.1" fill="#fc0e0e"/>
<rect x="206" y="79.3" width="18" height="8.2" fill="#e80a0a"/>
<rect x="206" y="87.2" width="18" height="8.2" fill="#c40a0a"/>
<rect x="206" y="95.1" width="18" height="8.4" fill="#900c0c"/>
<rect x="206" y="103.2" width="18" height="8.1" fill="#500e0a"/>
<rect x="206" y="111" width="18" height="5.8" fill="#0c0c06"/>
<rect x="206" y="116.5" width="18" height="4.8" fill="#0e2a0a"/>
<rect x="206" y="121" width="18" height="5.8" fill="#0c420c"/>
<rect x="206" y="126.5" width="18" height="6.3" fill="#0c560c"/>
<rect x="206" y="132.5" width="18" height="6.3" fill="#0c700c"/>
<rect x="206" y="138.5" width="18" height="5.3" fill="#0c880c"/>
<rect x="206" y="143.5" width="18" height="6.8" fill="#12a412"/>
<rect x="206" y="150" width="18" height="7.9" fill="#22d622"/>
<rect x="206" y="66.3" width="1.6" height="91.3" fill="#2a2a08" opacity="0.8"/>
<text x="225" y="73.55" class="lg">-1 -&gt; -0.818</text>
<text x="225" y="81.85" class="lg">-0.818 -&gt; -0.636</text>
<text x="225" y="90.15" class="lg">-0.636 -&gt; -0.455</text>
<text x="225" y="98.45" class="lg">-0.455 -&gt; -0.273</text>
<text x="225" y="106.75" class="lg">-0.273 -&gt; -0.091</text>
<text x="225" y="115.05" class="lg">-0.091 -&gt; 0.091</text>
<text x="225" y="123.35" class="lg">0.091 -&gt; 0.273</text>
<text x="225" y="131.65" class="lg">0.273 -&gt; 0.455</text>
<text x="225" y="139.95" class="lg">0.455 -&gt; 0.636</text>
<text x="225" y="148.25" class="lg">0.636 -&gt; 0.818</text>
<text x="225" y="156.55" class="lg">0.818 -&gt; 1</text>
<rect x="295.3" y="50.3" width="168.4" height="168.4" fill="#5c0a10"/>
<rect x="295.3" y="50.3" width="8.42" height="8.42" fill="#500a0c"/>
<rect x="296.2" y="51.2" width="6.8" height="6.8" fill="#a01e10"/>
<rect x="303.72" y="50.3" width="8.42" height="8.42" fill="#41120d"/>
<rect x="304.62" y="51.2" width="6.8" height="6.8" fill="#b07020"/>
<rect x="312.14" y="50.3" width="8.42" height="8.42" fill="#3b150c"/>
<rect x="313.04" y="51.2" width="6.8" height="6.8" fill="#b0c020"/>
<rect x="320.56" y="50.3" width="8.42" height="8.42" fill="#41120c"/>
<rect x="321.46" y="51.2" width="6.8" height="6.8" fill="#c08020"/>
<rect x="328.98" y="50.3" width="8.42" height="8.42" fill="#3f130c"/>
<rect x="329.88" y="51.2" width="6.8" height="6.8" fill="#c09a20"/>
<rect x="337.4" y="50.3" width="8.42" height="8.42" fill="#41120c"/>
<rect x="338.3" y="51.2" width="6.8" height="6.8" fill="#c08020"/>
<rect x="345.82" y="50.3" width="8.42" height="8.42" fill="#3d140c"/>
<rect x="346.72" y="51.2" width="6.8" height="6.8" fill="#b0a020"/>
<rect x="354.24" y="50.3" width="8.42" height="8.42" fill="#4c0d0c"/>
<rect x="355.14" y="51.2" width="6.8" height="6.8" fill="#b03010"/>
<rect x="362.66" y="50.3" width="8.42" height="8.42" fill="#41120d"/>
<rect x="363.56" y="51.2" width="6.8" height="6.8" fill="#b07020"/>
<rect x="371.08" y="50.3" width="8.42" height="8.42" fill="#4e0b0c"/>
<rect x="371.98" y="51.2" width="6.8" height="6.8" fill="#a02410"/>
<rect x="379.5" y="50.3" width="8.42" height="8.42" fill="#500a0c"/>
<rect x="380.4" y="51.2" width="6.8" height="6.8" fill="#a01e10"/>
<rect x="387.92" y="50.3" width="8.42" height="8.42" fill="#3d140c"/>
<rect x="388.82" y="51.2" width="6.8" height="6.8" fill="#c0b020"/>
<rect x="396.34" y="50.3" width="8.42" height="8.42" fill="#40130c"/>
<rect x="397.24" y="51.2" width="6.8" height="6.8" fill="#b08020"/>
<rect x="404.76" y="50.3" width="8.42" height="8.42" fill="#41120d"/>
<rect x="405.66" y="51.2" width="6.8" height="6.8" fill="#b07020"/>
<rect x="413.18" y="50.3" width="8.42" height="8.42" fill="#3f130d"/>
<rect x="414.08" y="51.2" width="6.8" height="6.8" fill="#a08020"/>
<rect x="421.6" y="50.3" width="8.42" height="8.42" fill="#38112a"/>
<rect x="422.5" y="51.2" width="6.8" height="6.8" fill="#5050d0"/>
<rect x="430.02" y="50.3" width="8.42" height="8.42" fill="#40130c"/>
<rect x="430.92" y="51.2" width="6.8" height="6.8" fill="#b08020"/>
<rect x="438.44" y="50.3" width="8.42" height="8.42" fill="#3e130c"/>
<rect x="439.34" y="51.2" width="6.8" height="6.8" fill="#c0a020"/>
<rect x="446.86" y="50.3" width="8.42" height="8.42" fill="#3d140c"/>
<rect x="447.76" y="51.2" width="6.8" height="6.8" fill="#b0a020"/>
<rect x="455.28" y="50.3" width="8.42" height="8.42" fill="#39131c"/>
<rect x="456.18" y="51.2" width="6.8" height="6.8" fill="#90a8d8"/>
<rect x="295.3" y="58.72" width="8.42" height="8.42" fill="#46100b"/>
<rect x="296.2" y="59.62" width="6.8" height="6.8" fill="#d06010"/>
<rect x="303.72" y="58.72" width="8.42" height="8.42" fill="#500a0c"/>
<rect x="304.62" y="59.62" width="6.8" height="6.8" fill="#a81e10"/>
<rect x="312.14" y="58.72" width="8.42" height="8.42" fill="#3b1318"/>
<rect x="313.04" y="59.62" width="6.8" height="6.8" fill="#f8e8f0"/>
<rect x="320.56" y="58.72" width="8.42" height="8.42" fill="#45100b"/>
<rect x="321.46" y="59.62" width="6.8" height="6.8" fill="#c06010"/>
<rect x="328.98" y="58.72" width="8.42" height="8.42" fill="#3e130c"/>
<rect x="329.88" y="59.62" width="6.8" height="6.8" fill="#c0a020"/>
<rect x="337.4" y="58.72" width="8.42" height="8.42" fill="#42110d"/>
<rect x="338.3" y="59.62" width="6.8" height="6.8" fill="#c07020"/>
<rect x="345.82" y="58.72" width="8.42" height="8.42" fill="#3f130c"/>
<rect x="346.72" y="59.62" width="6.8" height="6.8" fill="#c09020"/>
<rect x="354.24" y="58.72" width="8.42" height="8.42" fill="#45100b"/>
<rect x="355.14" y="59.62" width="6.8" height="6.8" fill="#c06010"/>
<rect x="362.66" y="58.72" width="8.42" height="8.42" fill="#3e130c"/>
<rect x="363.56" y="59.62" width="6.8" height="6.8" fill="#c0a020"/>
<rect x="371.08" y="58.72" width="8.42" height="8.42" fill="#4e0b0c"/>
<rect x="371.98" y="59.62" width="6.8" height="6.8" fill="#a02410"/>
<rect x="379.5" y="58.72" width="8.42" height="8.42" fill="#4f0b0c"/>
<rect x="380.4" y="59.62" width="6.8" height="6.8" fill="#b82410"/>
<rect x="387.92" y="58.72" width="8.42" height="8.42" fill="#44100d"/>
<rect x="388.82" y="59.62" width="6.8" height="6.8" fill="#c06020"/>
<rect x="396.34" y="58.72" width="8.42" height="8.42" fill="#41120d"/>
<rect x="397.24" y="59.62" width="6.8" height="6.8" fill="#b07020"/>
<rect x="404.76" y="58.72" width="8.42" height="8.42" fill="#4c0d0c"/>
<rect x="405.66" y="59.62" width="6.8" height="6.8" fill="#b03010"/>
<rect x="413.18" y="58.72" width="8.42" height="8.42" fill="#40120d"/>
<rect x="414.08" y="59.62" width="6.8" height="6.8" fill="#a07020"/>
<rect x="421.6" y="58.72" width="8.42" height="8.42" fill="#330b34"/>
<rect x="422.5" y="59.62" width="6.8" height="6.8" fill="#2020c0"/>
<rect x="430.02" y="58.72" width="8.42" height="8.42" fill="#42110d"/>
<rect x="430.92" y="59.62" width="6.8" height="6.8" fill="#c07020"/>
<rect x="438.44" y="58.72" width="8.42" height="8.42" fill="#3e130c"/>
<rect x="439.34" y="59.62" width="6.8" height="6.8" fill="#c0a020"/>
<rect x="446.86" y="58.72" width="8.42" height="8.42" fill="#3b150c"/>
<rect x="447.76" y="59.62" width="6.8" height="6.8" fill="#b0c020"/>
<rect x="455.28" y="58.72" width="8.42" height="8.42" fill="#34122e"/>
<rect x="456.18" y="59.62" width="6.8" height="6.8" fill="#3050d0"/>
<rect x="295.3" y="67.14" width="8.42" height="8.42" fill="#3d140c"/>
<rect x="296.2" y="68.04" width="6.8" height="6.8" fill="#c0b020"/>
<rect x="303.72" y="67.14" width="8.42" height="8.42" fill="#3b1318"/>
<rect x="304.62" y="68.04" width="6.8" height="6.8" fill="#f8e8f0"/>
<rect x="312.14" y="67.14" width="8.42" height="8.42" fill="#500a0c"/>
<rect x="313.04" y="68.04" width="6.8" height="6.8" fill="#a01e10"/>
<rect x="320.56" y="67.14" width="8.42" height="8.42" fill="#45100b"/>
<rect x="321.46" y="68.04" width="6.8" height="6.8" fill="#c06010"/>
<rect x="328.98" y="67.14" width="8.42" height="8.42" fill="#500a0c"/>
<rect x="329.88" y="68.04" width="6.8" height="6.8" fill="#a01e10"/>
<rect x="337.4" y="67.14" width="8.42" height="8.42" fill="#42110d"/>
<rect x="338.3" y="68.04" width="6.8" height="6.8" fill="#c07020"/>
<rect x="345.82" y="67.14" width="8.42" height="8.42" fill="#42110d"/>
<rect x="346.72" y="68.04" width="6.8" height="6.8" fill="#c07020"/>
<rect x="354.24" y="67.14" width="8.42" height="8.42" fill="#3b1318"/>
<rect x="355.14" y="68.04" width="6.8" height="6.8" fill="#f8f0f8"/>
<rect x="362.66" y="67.14" width="8.42" height="8.42" fill="#36112c"/>
<rect x="363.56" y="68.04" width="6.8" height="6.8" fill="#4050d0"/>
<rect x="371.08" y="67.14" width="8.42" height="8.42" fill="#3e130c"/>
<rect x="371.98" y="68.04" width="6.8" height="6.8" fill="#c0a020"/>
<rect x="379.5" y="67.14" width="8.42" height="8.42" fill="#3f130c"/>
<rect x="380.4" y="68.04" width="6.8" height="6.8" fill="#d0a020"/>
<rect x="387.92" y="67.14" width="8.42" height="8.42" fill="#41120c"/>
<rect x="388.82" y="68.04" width="6.8" height="6.8" fill="#c08020"/>
<rect x="396.34" y="67.14" width="8.42" height="8.42" fill="#3e140c"/>
<rect x="397.24" y="68.04" width="6.8" height="6.8" fill="#d0b020"/>
<rect x="404.76" y="67.14" width="8.42" height="8.42" fill="#3d140c"/>
<rect x="405.66" y="68.04" width="6.8" height="6.8" fill="#c0b020"/>
<rect x="413.18" y="67.14" width="8.42" height="8.42" fill="#391126"/>
<rect x="414.08" y="68.04" width="6.8" height="6.8" fill="#6060d0"/>
<rect x="421.6" y="67.14" width="8.42" height="8.42" fill="#3b150d"/>
<rect x="422.5" y="68.04" width="6.8" height="6.8" fill="#a0b030"/>
<rect x="430.02" y="67.14" width="8.42" height="8.42" fill="#40130c"/>
<rect x="430.92" y="68.04" width="6.8" height="6.8" fill="#b08020"/>
<rect x="438.44" y="67.14" width="8.42" height="8.42" fill="#3b1318"/>
<rect x="439.34" y="68.04" width="6.8" height="6.8" fill="#f0f0f8"/>
<rect x="446.86" y="67.14" width="8.42" height="8.42" fill="#34122e"/>
<rect x="447.76" y="68.04" width="6.8" height="6.8" fill="#3050d0"/>
<rect x="455.28" y="67.14" width="8.42" height="8.42" fill="#38131c"/>
<rect x="456.18" y="68.04" width="6.8" height="6.8" fill="#90b0d8"/>
<rect x="295.3" y="75.56" width="8.42" height="8.42" fill="#3f130c"/>
<rect x="296.2" y="76.46" width="6.8" height="6.8" fill="#c09020"/>
<rect x="303.72" y="75.56" width="8.42" height="8.42" fill="#40130c"/>
<rect x="304.62" y="76.46" width="6.8" height="6.8" fill="#b08020"/>
<rect x="312.14" y="75.56" width="8.42" height="8.42" fill="#43110c"/>
<rect x="313.04" y="76.46" width="6.8" height="6.8" fill="#d07020"/>
<rect x="320.56" y="75.56" width="8.42" height="8.42" fill="#500a0c"/>
<rect x="321.46" y="76.46" width="6.8" height="6.8" fill="#a01e10"/>
<rect x="328.98" y="75.56" width="8.42" height="8.42" fill="#42120c"/>
<rect x="329.88" y="76.46" width="6.8" height="6.8" fill="#d08020"/>
<rect x="337.4" y="75.56" width="8.42" height="8.42" fill="#4e0b0c"/>
<rect x="338.3" y="76.46" width="6.8" height="6.8" fill="#a02410"/>
<rect x="345.82" y="75.56" width="8.42" height="8.42" fill="#42110d"/>
<rect x="346.72" y="76.46" width="6.8" height="6.8" fill="#c07020"/>
<rect x="354.24" y="75.56" width="8.42" height="8.42" fill="#3b150f"/>
<rect x="355.14" y="76.46" width="6.8" height="6.8" fill="#a0b040"/>
<rect x="362.66" y="75.56" width="8.42" height="8.42" fill="#3a121f"/>
<rect x="363.56" y="76.46" width="6.8" height="6.8" fill="#9090e0"/>
<rect x="371.08" y="75.56" width="8.42" height="8.42" fill="#4b0d0c"/>
<rect x="371.98" y="76.46" width="6.8" height="6.8" fill="#a03010"/>
<rect x="379.5" y="75.56" width="8.42" height="8.42" fill="#44100d"/>
<rect x="380.4" y="76.46" width="6.8" height="6.8" fill="#c06020"/>
<rect x="387.92" y="75.56" width="8.42" height="8.42" fill="#4b0d0c"/>
<rect x="388.82" y="76.46" width="6.8" height="6.8" fill="#a03010"/>
<rect x="396.34" y="75.56" width="8.42" height="8.42" fill="#41120c"/>
<rect x="397.24" y="76.46" width="6.8" height="6.8" fill="#c08020"/>
<rect x="404.76" y="75.56" width="8.42" height="8.42" fill="#490e0c"/>
<rect x="405.66" y="76.46" width="6.8" height="6.8" fill="#903010"/>
<rect x="413.18" y="75.56" width="8.42" height="8.42" fill="#3b1318"/>
<rect x="414.08" y="76.46" width="6.8" height="6.8" fill="#f0f0f0"/>
<rect x="421.6" y="75.56" width="8.42" height="8.42" fill="#391126"/>
<rect x="422.5" y="76.46" width="6.8" height="6.8" fill="#6060d0"/>
<rect x="430.02" y="75.56" width="8.42" height="8.42" fill="#3f130d"/>
<rect x="430.92" y="76.46" width="6.8" height="6.8" fill="#a08020"/>
<rect x="438.44" y="75.56" width="8.42" height="8.42" fill="#391416"/>
<rect x="439.34" y="76.46" width="6.8" height="6.8" fill="#90b090"/>
<rect x="446.86" y="75.56" width="8.42" height="8.42" fill="#351229"/>
<rect x="447.76" y="76.46" width="6.8" height="6.8" fill="#4060d0"/>
<rect x="455.28" y="75.56" width="8.42" height="8.42" fill="#34122e"/>
<rect x="456.18" y="76.46" width="6.8" height="6.8" fill="#3050d0"/>
<rect x="295.3" y="83.98" width="8.42" height="8.42" fill="#42120c"/>
<rect x="296.2" y="84.88" width="6.8" height="6.8" fill="#d08020"/>
<rect x="303.72" y="83.98" width="8.42" height="8.42" fill="#3e130c"/>
<rect x="304.62" y="84.88" width="6.8" height="6.8" fill="#c0a020"/>
<rect x="312.14" y="83.98" width="8.42" height="8.42" fill="#500a0c"/>
<rect x="313.04" y="84.88" width="6.8" height="6.8" fill="#a01e10"/>
<rect x="320.56" y="83.98" width="8.42" height="8.42" fill="#40120c"/>
<rect x="321.46" y="84.88" width="6.8" height="6.8" fill="#d09020"/>
<rect x="328.98" y="83.98" width="8.42" height="8.42" fill="#4e0b0c"/>
<rect x="329.88" y="84.88" width="6.8" height="6.8" fill="#a82410"/>
<rect x="337.4" y="83.98" width="8.42" height="8.42" fill="#43110c"/>
<rect x="338.3" y="84.88" width="6.8" height="6.8" fill="#d07020"/>
<rect x="345.82" y="83.98" width="8.42" height="8.42" fill="#3f130c"/>
<rect x="346.72" y="84.88" width="6.8" height="6.8" fill="#c09020"/>
<rect x="354.24" y="83.98" width="8.42" height="8.42" fill="#3d140c"/>
<rect x="355.14" y="84.88" width="6.8" height="6.8" fill="#b0a020"/>
<rect x="362.66" y="83.98" width="8.42" height="8.42" fill="#3b1318"/>
<rect x="363.56" y="84.88" width="6.8" height="6.8" fill="#f8e8f0"/>
<rect x="371.08" y="83.98" width="8.42" height="8.42" fill="#41120c"/>
<rect x="371.98" y="84.88" width="6.8" height="6.8" fill="#c08020"/>
<rect x="379.5" y="83.98" width="8.42" height="8.42" fill="#42120c"/>
<rect x="380.4" y="84.88" width="6.8" height="6.8" fill="#d08020"/>
<rect x="387.92" y="83.98" width="8.42" height="8.42" fill="#3e130c"/>
<rect x="388.82" y="84.88" width="6.8" height="6.8" fill="#c0a020"/>
<rect x="396.34" y="83.98" width="8.42" height="8.42" fill="#40130c"/>
<rect x="397.24" y="84.88" width="6.8" height="6.8" fill="#b08020"/>
<rect x="404.76" y="83.98" width="8.42" height="8.42" fill="#3e130c"/>
<rect x="405.66" y="84.88" width="6.8" height="6.8" fill="#c0a020"/>
<rect x="413.18" y="83.98" width="8.42" height="8.42" fill="#3b1318"/>
<rect x="414.08" y="84.88" width="6.8" height="6.8" fill="#f8f0f8"/>
<rect x="421.6" y="83.98" width="8.42" height="8.42" fill="#3b1318"/>
<rect x="422.5" y="84.88" width="6.8" height="6.8" fill="#f8f8f8"/>
<rect x="430.02" y="83.98" width="8.42" height="8.42" fill="#500a0c"/>
<rect x="430.92" y="84.88" width="6.8" height="6.8" fill="#a01e10"/>
<rect x="438.44" y="83.98" width="8.42" height="8.42" fill="#3d140d"/>
<rect x="439.34" y="84.88" width="6.8" height="6.8" fill="#b0a030"/>
<rect x="446.86" y="83.98" width="8.42" height="8.42" fill="#39131c"/>
<rect x="447.76" y="84.88" width="6.8" height="6.8" fill="#90a0d0"/>
<rect x="455.28" y="83.98" width="8.42" height="8.42" fill="#39131c"/>
<rect x="456.18" y="84.88" width="6.8" height="6.8" fill="#90a8d8"/>
<rect x="295.3" y="92.4" width="8.42" height="8.42" fill="#42110d"/>
<rect x="296.2" y="93.3" width="6.8" height="6.8" fill="#c07020"/>
<rect x="303.72" y="92.4" width="8.42" height="8.42" fill="#40130c"/>
<rect x="304.62" y="93.3" width="6.8" height="6.8" fill="#b08020"/>
<rect x="312.14" y="92.4" width="8.42" height="8.42" fill="#40120c"/>
<rect x="313.04" y="93.3" width="6.8" height="6.8" fill="#d09020"/>
<rect x="320.56" y="92.4" width="8.42" height="8.42" fill="#4f0b0c"/>
<rect x="321.46" y="93.3" width="6.8" height="6.8" fill="#b82410"/>
<rect x="328.98" y="92.4" width="8.42" height="8.42" fill="#44100d"/>
<rect x="329.88" y="93.3" width="6.8" height="6.8" fill="#c06020"/>
<rect x="337.4" y="92.4" width="8.42" height="8.42" fill="#500a0c"/>
<rect x="338.3" y="93.3" width="6.8" height="6.8" fill="#a01e10"/>
<rect x="345.82" y="92.4" width="8.42" height="8.42" fill="#510a0c"/>
<rect x="346.72" y="93.3" width="6.8" height="6.8" fill="#c01e10"/>
<rect x="354.24" y="92.4" width="8.42" height="8.42" fill="#3e130c"/>
<rect x="355.14" y="93.3" width="6.8" height="6.8" fill="#b09020"/>
<rect x="362.66" y="92.4" width="8.42" height="8.42" fill="#3c140c"/>
<rect x="363.56" y="93.3" width="6.8" height="6.8" fill="#b0b020"/>
<rect x="371.08" y="92.4" width="8.42" height="8.42" fill="#4b0d0c"/>
<rect x="371.98" y="93.3" width="6.8" height="6.8" fill="#a03010"/>
<rect x="379.5" y="92.4" width="8.42" height="8.42" fill="#42110d"/>
<rect x="380.4" y="93.3" width="6.8" height="6.8" fill="#c07020"/>
<rect x="387.92" y="92.4" width="8.42" height="8.42" fill="#42110d"/>
<rect x="388.82" y="93.3" width="6.8" height="6.8" fill="#c07020"/>
<rect x="396.34" y="92.4" width="8.42" height="8.42" fill="#3f130c"/>
<rect x="397.24" y="93.3" width="6.8" height="6.8" fill="#d0a020"/>
<rect x="404.76" y="92.4" width="8.42" height="8.42" fill="#3e130c"/>
<rect x="405.66" y="93.3" width="6.8" height="6.8" fill="#b09020"/>
<rect x="413.18" y="92.4" width="8.42" height="8.42" fill="#3b150d"/>
<rect x="414.08" y="93.3" width="6.8" height="6.8" fill="#a0b030"/>
<rect x="421.6" y="92.4" width="8.42" height="8.42" fill="#371227"/>
<rect x="422.5" y="93.3" width="6.8" height="6.8" fill="#5060d0"/>
<rect x="430.02" y="92.4" width="8.42" height="8.42" fill="#42110d"/>
<rect x="430.92" y="93.3" width="6.8" height="6.8" fill="#c07020"/>
<rect x="438.44" y="92.4" width="8.42" height="8.42" fill="#3b1318"/>
<rect x="439.34" y="93.3" width="6.8" height="6.8" fill="#f8f8f8"/>
<rect x="446.86" y="92.4" width="8.42" height="8.42" fill="#3a1318"/>
<rect x="447.76" y="93.3" width="6.8" height="6.8" fill="#f0f8f8"/>
<rect x="455.28" y="92.4" width="8.42" height="8.42" fill="#39131c"/>
<rect x="456.18" y="93.3" width="6.8" height="6.8" fill="#a0b0e0"/>
<rect x="295.3" y="100.82" width="8.42" height="8.42" fill="#40120c"/>
<rect x="296.2" y="101.72" width="6.8" height="6.8" fill="#d09020"/>
<rect x="303.72" y="100.82" width="8.42" height="8.42" fill="#41120c"/>
<rect x="304.62" y="101.72" width="6.8" height="6.8" fill="#c08020"/>
<rect x="312.14" y="100.82" width="8.42" height="8.42" fill="#3e130c"/>
<rect x="313.04" y="101.72" width="6.8" height="6.8" fill="#b09020"/>
<rect x="320.56" y="100.82" width="8.42" height="8.42" fill="#44100d"/>
<rect x="321.46" y="101.72" width="6.8" height="6.8" fill="#c06020"/>
<rect x="328.98" y="100.82" width="8.42" height="8.42" fill="#3d140c"/>
<rect x="329.88" y="101.72" width="6.8" height="6.8" fill="#c0b020"/>
<rect x="337.4" y="100.82" width="8.42" height="8.42" fill="#4f0b0c"/>
<rect x="338.3" y="101.72" width="6.8" height="6.8" fill="#b02410"/>
<rect x="345.82" y="100.82" width="8.42" height="8.42" fill="#500a0c"/>
<rect x="346.72" y="101.72" width="6.8" height="6.8" fill="#a01e10"/>
<rect x="354.24" y="100.82" width="8.42" height="8.42" fill="#3a1416"/>
<rect x="355.14" y="101.72" width="6.8" height="6.8" fill="#a0b090"/>
<rect x="362.66" y="100.82" width="8.42" height="8.42" fill="#3b1318"/>
<rect x="363.56" y="101.72" width="6.8" height="6.8" fill="#f8e8f0"/>
<rect x="371.08" y="100.82" width="8.42" height="8.42" fill="#41120c"/>
<rect x="371.98" y="101.72" width="6.8" height="6.8" fill="#c08020"/>
<rect x="379.5" y="100.82" width="8.42" height="8.42" fill="#3f130c"/>
<rect x="380.4" y="101.72" width="6.8" height="6.8" fill="#d0a020"/>
<rect x="387.92" y="100.82" width="8.42" height="8.42" fill="#3e130c"/>
<rect x="388.82" y="101.72" width="6.8" height="6.8" fill="#b09020"/>
<rect x="396.34" y="100.82" width="8.42" height="8.42" fill="#3d111d"/>
<rect x="397.24" y="101.72" width="6.8" height="6.8" fill="#c090e0"/>
<rect x="404.76" y="100.82" width="8.42" height="8.42" fill="#3d140c"/>
<rect x="405.66" y="101.72" width="6.8" height="6.8" fill="#c0b020"/>
<rect x="413.18" y="100.82" width="8.42" height="8.42" fill="#391416"/>
<rect x="414.08" y="101.72" width="6.8" height="6.8" fill="#90b090"/>
<rect x="421.6" y="100.82" width="8.42" height="8.42" fill="#391416"/>
<rect x="422.5" y="101.72" width="6.8" height="6.8" fill="#90b090"/>
<rect x="430.02" y="100.82" width="8.42" height="8.42" fill="#3a150d"/>
<rect x="430.92" y="101.72" width="6.8" height="6.8" fill="#a0c030"/>
<rect x="438.44" y="100.82" width="8.42" height="8.42" fill="#36112c"/>
<rect x="439.34" y="101.72" width="6.8" height="6.8" fill="#4050d0"/>
<rect x="446.86" y="100.82" width="8.42" height="8.42" fill="#391416"/>
<rect x="447.76" y="101.72" width="6.8" height="6.8" fill="#90b090"/>
<rect x="455.28" y="100.82" width="8.42" height="8.42" fill="#3a1318"/>
<rect x="456.18" y="101.72" width="6.8" height="6.8" fill="#f0f8f8"/>
<rect x="295.3" y="109.24" width="8.42" height="8.42" fill="#510a0c"/>
<rect x="296.2" y="110.14" width="6.8" height="6.8" fill="#c01e10"/>
<rect x="303.72" y="109.24" width="8.42" height="8.42" fill="#44100d"/>
<rect x="304.62" y="110.14" width="6.8" height="6.8" fill="#c06020"/>
<rect x="312.14" y="109.24" width="8.42" height="8.42" fill="#3b1318"/>
<rect x="313.04" y="110.14" width="6.8" height="6.8" fill="#f8f0f0"/>
<rect x="320.56" y="109.24" width="8.42" height="8.42" fill="#3e130c"/>
<rect x="321.46" y="110.14" width="6.8" height="6.8" fill="#c0a020"/>
<rect x="328.98" y="109.24" width="8.42" height="8.42" fill="#3d140c"/>
<rect x="329.88" y="110.14" width="6.8" height="6.8" fill="#c0b020"/>
<rect x="337.4" y="109.24" width="8.42" height="8.42" fill="#41120c"/>
<rect x="338.3" y="110.14" width="6.8" height="6.8" fill="#c08020"/>
<rect x="345.82" y="109.24" width="8.42" height="8.42" fill="#361615"/>
<rect x="346.72" y="110.14" width="6.8" height="6.8" fill="#60a070"/>
<rect x="354.24" y="109.24" width="8.42" height="8.42" fill="#4e0b0c"/>
<rect x="355.14" y="110.14" width="6.8" height="6.8" fill="#a82410"/>
<rect x="362.66" y="109.24" width="8.42" height="8.42" fill="#3f130c"/>
<rect x="363.56" y="110.14" width="6.8" height="6.8" fill="#c09020"/>
<rect x="371.08" y="109.24" width="8.42" height="8.42" fill="#4e0b0c"/>
<rect x="371.98" y="110.14" width="6.8" height="6.8" fill="#a02410"/>
<rect x="379.5" y="109.24" width="8.42" height="8.42" fill="#4f0b0c"/>
<rect x="380.4" y="110.14" width="6.8" height="6.8" fill="#b82410"/>
<rect x="387.92" y="109.24" width="8.42" height="8.42" fill="#3f130c"/>
<rect x="388.82" y="110.14" width="6.8" height="6.8" fill="#d0a020"/>
<rect x="396.34" y="109.24" width="8.42" height="8.42" fill="#500a0c"/>
<rect x="397.24" y="110.14" width="6.8" height="6.8" fill="#a01e10"/>
<rect x="404.76" y="109.24" width="8.42" height="8.42" fill="#500a0c"/>
<rect x="405.66" y="110.14" width="6.8" height="6.8" fill="#a01e10"/>
<rect x="413.18" y="109.24" width="8.42" height="8.42" fill="#4e0b0c"/>
<rect x="414.08" y="110.14" width="6.8" height="6.8" fill="#a82410"/>
<rect x="421.6" y="109.24" width="8.42" height="8.42" fill="#330b34"/>
<rect x="422.5" y="110.14" width="6.8" height="6.8" fill="#2020c0"/>
<rect x="430.02" y="109.24" width="8.42" height="8.42" fill="#42110d"/>
<rect x="430.92" y="110.14" width="6.8" height="6.8" fill="#c07020"/>
<rect x="438.44" y="109.24" width="8.42" height="8.42" fill="#4f0b0c"/>
<rect x="439.34" y="110.14" width="6.8" height="6.8" fill="#b02410"/>
<rect x="446.86" y="109.24" width="8.42" height="8.42" fill="#3d140c"/>
<rect x="447.76" y="110.14" width="6.8" height="6.8" fill="#c0b020"/>
<rect x="455.28" y="109.24" width="8.42" height="8.42" fill="#34122e"/>
<rect x="456.18" y="110.14" width="6.8" height="6.8" fill="#3050d0"/>
<rect x="295.3" y="117.66" width="8.42" height="8.42" fill="#43110c"/>
<rect x="296.2" y="118.56" width="6.8" height="6.8" fill="#d07020"/>
<rect x="303.72" y="117.66" width="8.42" height="8.42" fill="#3e130c"/>
<rect x="304.62" y="118.56" width="6.8" height="6.8" fill="#c0a020"/>
<rect x="312.14" y="117.66" width="8.42" height="8.42" fill="#33132a"/>
<rect x="313.04" y="118.56" width="6.8" height="6.8" fill="#3060d0"/>
<rect x="320.56" y="117.66" width="8.42" height="8.42" fill="#39131d"/>
<rect x="321.46" y="118.56" width="6.8" height="6.8" fill="#90a0d8"/>
<rect x="328.98" y="117.66" width="8.42" height="8.42" fill="#3b1318"/>
<rect x="329.88" y="118.56" width="6.8" height="6.8" fill="#f8f8f8"/>
<rect x="337.4" y="117.66" width="8.42" height="8.42" fill="#3e130c"/>
<rect x="338.3" y="118.56" width="6.8" height="6.8" fill="#c0a020"/>
<rect x="345.82" y="117.66" width="8.42" height="8.42" fill="#3b1318"/>
<rect x="346.72" y="118.56" width="6.8" height="6.8" fill="#f8f8f8"/>
<rect x="354.24" y="117.66" width="8.42" height="8.42" fill="#3e130c"/>
<rect x="355.14" y="118.56" width="6.8" height="6.8" fill="#c0a020"/>
<rect x="362.66" y="117.66" width="8.42" height="8.42" fill="#4e0b0c"/>
<rect x="363.56" y="118.56" width="6.8" height="6.8" fill="#a82410"/>
<rect x="371.08" y="117.66" width="8.42" height="8.42" fill="#3e130c"/>
<rect x="371.98" y="118.56" width="6.8" height="6.8" fill="#c0a020"/>
<rect x="379.5" y="117.66" width="8.42" height="8.42" fill="#3f130c"/>
<rect x="380.4" y="118.56" width="6.8" height="6.8" fill="#c09020"/>
<rect x="387.92" y="117.66" width="8.42" height="8.42" fill="#38112a"/>
<rect x="388.82" y="118.56" width="6.8" height="6.8" fill="#5050d0"/>
<rect x="396.34" y="117.66" width="8.42" height="8.42" fill="#3b150d"/>
<rect x="397.24" y="118.56" width="6.8" height="6.8" fill="#a0b030"/>
<rect x="404.76" y="117.66" width="8.42" height="8.42" fill="#3b1318"/>
<rect x="405.66" y="118.56" width="6.8" height="6.8" fill="#f8f0f8"/>
<rect x="413.18" y="117.66" width="8.42" height="8.42" fill="#3f130d"/>
<rect x="414.08" y="118.56" width="6.8" height="6.8" fill="#a08020"/>
<rect x="421.6" y="117.66" width="8.42" height="8.42" fill="#3a121d"/>
<rect x="422.5" y="118.56" width="6.8" height="6.8" fill="#a0a0e0"/>
<rect x="430.02" y="117.66" width="8.42" height="8.42" fill="#3b1318"/>
<rect x="430.92" y="118.56" width="6.8" height="6.8" fill="#f8f8f8"/>
<rect x="438.44" y="117.66" width="8.42" height="8.42" fill="#3e130c"/>
<rect x="439.34" y="118.56" width="6.8" height="6.8" fill="#c0a020"/>
<rect x="446.86" y="117.66" width="8.42" height="8.42" fill="#4f0b0c"/>
<rect x="447.76" y="118.56" width="6.8" height="6.8" fill="#b02410"/>
<rect x="455.28" y="117.66" width="8.42" height="8.42" fill="#3c140c"/>
<rect x="456.18" y="118.56" width="6.8" height="6.8" fill="#b0b020"/>
<rect x="295.3" y="126.08" width="8.42" height="8.42" fill="#52090c"/>
<rect x="296.2" y="126.98" width="6.8" height="6.8" fill="#b01810"/>
<rect x="303.72" y="126.08" width="8.42" height="8.42" fill="#52090c"/>
<rect x="304.62" y="126.98" width="6.8" height="6.8" fill="#b01810"/>
<rect x="312.14" y="126.08" width="8.42" height="8.42" fill="#3d140c"/>
<rect x="313.04" y="126.98" width="6.8" height="6.8" fill="#c0b020"/>
<rect x="320.56" y="126.08" width="8.42" height="8.42" fill="#52090c"/>
<rect x="321.46" y="126.98" width="6.8" height="6.8" fill="#b01810"/>
<rect x="328.98" y="126.08" width="8.42" height="8.42" fill="#42120c"/>
<rect x="329.88" y="126.98" width="6.8" height="6.8" fill="#d08020"/>
<rect x="337.4" y="126.08" width="8.42" height="8.42" fill="#510a0c"/>
<rect x="338.3" y="126.98" width="6.8" height="6.8" fill="#b01e10"/>
<rect x="345.82" y="126.08" width="8.42" height="8.42" fill="#42120c"/>
<rect x="346.72" y="126.98" width="6.8" height="6.8" fill="#d08020"/>
<rect x="354.24" y="126.08" width="8.42" height="8.42" fill="#4f0b0c"/>
<rect x="355.14" y="126.98" width="6.8" height="6.8" fill="#b02410"/>
<rect x="362.66" y="126.08" width="8.42" height="8.42" fill="#3f130c"/>
<rect x="363.56" y="126.98" width="6.8" height="6.8" fill="#d0a020"/>
<rect x="371.08" y="126.08" width="8.42" height="8.42" fill="#4e0b0c"/>
<rect x="371.98" y="126.98" width="6.8" height="6.8" fill="#a82410"/>
<rect x="379.5" y="126.08" width="8.42" height="8.42" fill="#510a0c"/>
<rect x="380.4" y="126.98" width="6.8" height="6.8" fill="#b01e10"/>
<rect x="387.92" y="126.08" width="8.42" height="8.42" fill="#44100d"/>
<rect x="388.82" y="126.98" width="6.8" height="6.8" fill="#c06020"/>
<rect x="396.34" y="126.08" width="8.42" height="8.42" fill="#42110d"/>
<rect x="397.24" y="126.98" width="6.8" height="6.8" fill="#c07020"/>
<rect x="404.76" y="126.08" width="8.42" height="8.42" fill="#4f0b0c"/>
<rect x="405.66" y="126.98" width="6.8" height="6.8" fill="#b02410"/>
<rect x="413.18" y="126.08" width="8.42" height="8.42" fill="#3f130c"/>
<rect x="414.08" y="126.98" width="6.8" height="6.8" fill="#c09020"/>
<rect x="421.6" y="126.08" width="8.42" height="8.42" fill="#371030"/>
<rect x="422.5" y="126.98" width="6.8" height="6.8" fill="#4040d0"/>
<rect x="430.02" y="126.08" width="8.42" height="8.42" fill="#510a0c"/>
<rect x="430.92" y="126.98" width="6.8" height="6.8" fill="#b01e10"/>
<rect x="438.44" y="126.08" width="8.42" height="8.42" fill="#3d140c"/>
<rect x="439.34" y="126.98" width="6.8" height="6.8" fill="#c0b020"/>
<rect x="446.86" y="126.08" width="8.42" height="8.42" fill="#3b1318"/>
<rect x="447.76" y="126.98" width="6.8" height="6.8" fill="#f8f8f8"/>
<rect x="455.28" y="126.08" width="8.42" height="8.42" fill="#34122e"/>
<rect x="456.18" y="126.98" width="6.8" height="6.8" fill="#3050d0"/>
<rect x="295.3" y="134.5" width="8.42" height="8.42" fill="#52090c"/>
<rect x="296.2" y="135.4" width="6.8" height="6.8" fill="#b01810"/>
<rect x="303.72" y="134.5" width="8.42" height="8.42" fill="#52090c"/>
<rect x="304.62" y="135.4" width="6.8" height="6.8" fill="#b01810"/>
<rect x="312.14" y="134.5" width="8.42" height="8.42" fill="#3e130c"/>
<rect x="313.04" y="135.4" width="6.8" height="6.8" fill="#c0a020"/>
<rect x="320.56" y="134.5" width="8.42" height="8.42" fill="#4d0c0b"/>
<rect x="321.46" y="135.4" width="6.8" height="6.8" fill="#c03010"/>
<rect x="328.98" y="134.5" width="8.42" height="8.42" fill="#43110c"/>
<rect x="329.88" y="135.4" width="6.8" height="6.8" fill="#d07020"/>
<rect x="337.4" y="134.5" width="8.42" height="8.42" fill="#44100d"/>
<rect x="338.3" y="135.4" width="6.8" height="6.8" fill="#c06020"/>
<rect x="345.82" y="134.5" width="8.42" height="8.42" fill="#3e130c"/>
<rect x="346.72" y="135.4" width="6.8" height="6.8" fill="#c0a020"/>
<rect x="354.24" y="134.5" width="8.42" height="8.42" fill="#510a0c"/>
<rect x="355.14" y="135.4" width="6.8" height="6.8" fill="#b01e10"/>
<rect x="362.66" y="134.5" width="8.42" height="8.42" fill="#43110c"/>
<rect x="363.56" y="135.4" width="6.8" height="6.8" fill="#d07020"/>
<rect x="371.08" y="134.5" width="8.42" height="8.42" fill="#4f0b0c"/>
<rect x="371.98" y="135.4" width="6.8" height="6.8" fill="#b02410"/>
<rect x="379.5" y="134.5" width="8.42" height="8.42" fill="#52090c"/>
<rect x="380.4" y="135.4" width="6.8" height="6.8" fill="#b01810"/>
<rect x="387.92" y="134.5" width="8.42" height="8.42" fill="#43110c"/>
<rect x="388.82" y="135.4" width="6.8" height="6.8" fill="#d07020"/>
<rect x="396.34" y="134.5" width="8.42" height="8.42" fill="#510a0c"/>
<rect x="397.24" y="135.4" width="6.8" height="6.8" fill="#b01e10"/>
<rect x="404.76" y="134.5" width="8.42" height="8.42" fill="#510a0c"/>
<rect x="405.66" y="135.4" width="6.8" height="6.8" fill="#b01e10"/>
<rect x="413.18" y="134.5" width="8.42" height="8.42" fill="#3f130d"/>
<rect x="414.08" y="135.4" width="6.8" height="6.8" fill="#a08020"/>
<rect x="421.6" y="134.5" width="8.42" height="8.42" fill="#371030"/>
<rect x="422.5" y="135.4" width="6.8" height="6.8" fill="#4040d0"/>
<rect x="430.02" y="134.5" width="8.42" height="8.42" fill="#510a0c"/>
<rect x="430.92" y="135.4" width="6.8" height="6.8" fill="#b01e10"/>
<rect x="438.44" y="134.5" width="8.42" height="8.42" fill="#41120c"/>
<rect x="439.34" y="135.4" width="6.8" height="6.8" fill="#c08020"/>
<rect x="446.86" y="134.5" width="8.42" height="8.42" fill="#3d140c"/>
<rect x="447.76" y="135.4" width="6.8" height="6.8" fill="#c0b020"/>
<rect x="455.28" y="134.5" width="8.42" height="8.42" fill="#34122e"/>
<rect x="456.18" y="135.4" width="6.8" height="6.8" fill="#3050d0"/>
<rect x="295.3" y="142.92" width="8.42" height="8.42" fill="#3c150b"/>
<rect x="296.2" y="143.82" width="6.8" height="6.8" fill="#c0c020"/>
<rect x="303.72" y="142.92" width="8.42" height="8.42" fill="#44100d"/>
<rect x="304.62" y="143.82" width="6.8" height="6.8" fill="#c06020"/>
<rect x="312.14" y="142.92" width="8.42" height="8.42" fill="#42110d"/>
<rect x="313.04" y="143.82" width="6.8" height="6.8" fill="#c07020"/>
<rect x="320.56" y="142.92" width="8.42" height="8.42" fill="#52090c"/>
<rect x="321.46" y="143.82" width="6.8" height="6.8" fill="#b01810"/>
<rect x="328.98" y="142.92" width="8.42" height="8.42" fill="#3f130c"/>
<rect x="329.88" y="143.82" width="6.8" height="6.8" fill="#c09020"/>
<rect x="337.4" y="142.92" width="8.42" height="8.42" fill="#42110d"/>
<rect x="338.3" y="143.82" width="6.8" height="6.8" fill="#c07020"/>
<rect x="345.82" y="142.92" width="8.42" height="8.42" fill="#42110d"/>
<rect x="346.72" y="143.82" width="6.8" height="6.8" fill="#c07020"/>
<rect x="354.24" y="142.92" width="8.42" height="8.42" fill="#3e130c"/>
<rect x="355.14" y="143.82" width="6.8" height="6.8" fill="#c0a020"/>
<rect x="362.66" y="142.92" width="8.42" height="8.42" fill="#351229"/>
<rect x="363.56" y="143.82" width="6.8" height="6.8" fill="#4060d0"/>
<rect x="371.08" y="142.92" width="8.42" height="8.42" fill="#3f130d"/>
<rect x="371.98" y="143.82" width="6.8" height="6.8" fill="#a08020"/>
<rect x="379.5" y="142.92" width="8.42" height="8.42" fill="#42110d"/>
<rect x="380.4" y="143.82" width="6.8" height="6.8" fill="#c07020"/>
<rect x="387.92" y="142.92" width="8.42" height="8.42" fill="#510a0c"/>
<rect x="388.82" y="143.82" width="6.8" height="6.8" fill="#b01e10"/>
<rect x="396.34" y="142.92" width="8.42" height="8.42" fill="#41120c"/>
<rect x="397.24" y="143.82" width="6.8" height="6.8" fill="#c08020"/>
<rect x="404.76" y="142.92" width="8.42" height="8.42" fill="#42110d"/>
<rect x="405.66" y="143.82" width="6.8" height="6.8" fill="#a06020"/>
<rect x="413.18" y="142.92" width="8.42" height="8.42" fill="#351616"/>
<rect x="414.08" y="143.82" width="6.8" height="6.8" fill="#60b080"/>
<rect x="421.6" y="142.92" width="8.42" height="8.42" fill="#351229"/>
<rect x="422.5" y="143.82" width="6.8" height="6.8" fill="#4060d0"/>
<rect x="430.02" y="142.92" width="8.42" height="8.42" fill="#3f130d"/>
<rect x="430.92" y="143.82" width="6.8" height="6.8" fill="#a08020"/>
<rect x="438.44" y="142.92" width="8.42" height="8.42" fill="#39131e"/>
<rect x="439.34" y="143.82" width="6.8" height="6.8" fill="#90a0e0"/>
<rect x="446.86" y="142.92" width="8.42" height="8.42" fill="#34122e"/>
<rect x="447.76" y="143.82" width="6.8" height="6.8" fill="#3050d0"/>
<rect x="455.28" y="142.92" width="8.42" height="8.42" fill="#34122e"/>
<rect x="456.18" y="143.82" width="6.8" height="6.8" fill="#3050d0"/>
<rect x="295.3" y="151.34" width="8.42" height="8.42" fill="#43110c"/>
<rect x="296.2" y="152.24" width="6.8" height="6.8" fill="#d07020"/>
<rect x="303.72" y="151.34" width="8.42" height="8.42" fill="#43110c"/>
<rect x="304.62" y="152.24" width="6.8" height="6.8" fill="#d07020"/>
<rect x="312.14" y="151.34" width="8.42" height="8.42" fill="#3d140c"/>
<rect x="313.04" y="152.24" width="6.8" height="6.8" fill="#c0b020"/>
<rect x="320.56" y="151.34" width="8.42" height="8.42" fill="#3f130c"/>
<rect x="321.46" y="152.24" width="6.8" height="6.8" fill="#c09020"/>
<rect x="328.98" y="151.34" width="8.42" height="8.42" fill="#42120c"/>
<rect x="329.88" y="152.24" width="6.8" height="6.8" fill="#d08020"/>
<rect x="337.4" y="151.34" width="8.42" height="8.42" fill="#3e130c"/>
<rect x="338.3" y="152.24" width="6.8" height="6.8" fill="#c0a020"/>
<rect x="345.82" y="151.34" width="8.42" height="8.42" fill="#39131c"/>
<rect x="346.72" y="152.24" width="6.8" height="6.8" fill="#90a8d8"/>
<rect x="354.24" y="151.34" width="8.42" height="8.42" fill="#4f0b0c"/>
<rect x="355.14" y="152.24" width="6.8" height="6.8" fill="#b02410"/>
<rect x="362.66" y="151.34" width="8.42" height="8.42" fill="#40120c"/>
<rect x="363.56" y="152.24" width="6.8" height="6.8" fill="#d09020"/>
<rect x="371.08" y="151.34" width="8.42" height="8.42" fill="#42110d"/>
<rect x="371.98" y="152.24" width="6.8" height="6.8" fill="#c07020"/>
<rect x="379.5" y="151.34" width="8.42" height="8.42" fill="#4f0b0c"/>
<rect x="380.4" y="152.24" width="6.8" height="6.8" fill="#b02410"/>
<rect x="387.92" y="151.34" width="8.42" height="8.42" fill="#3f130c"/>
<rect x="388.82" y="152.24" width="6.8" height="6.8" fill="#d0a020"/>
<rect x="396.34" y="151.34" width="8.42" height="8.42" fill="#4f0b0c"/>
<rect x="397.24" y="152.24" width="6.8" height="6.8" fill="#b02410"/>
<rect x="404.76" y="151.34" width="8.42" height="8.42" fill="#44100d"/>
<rect x="405.66" y="152.24" width="6.8" height="6.8" fill="#c06020"/>
<rect x="413.18" y="151.34" width="8.42" height="8.42" fill="#40130c"/>
<rect x="414.08" y="152.24" width="6.8" height="6.8" fill="#b08020"/>
<rect x="421.6" y="151.34" width="8.42" height="8.42" fill="#38112a"/>
<rect x="422.5" y="152.24" width="6.8" height="6.8" fill="#5050d0"/>
<rect x="430.02" y="151.34" width="8.42" height="8.42" fill="#510a0c"/>
<rect x="430.92" y="152.24" width="6.8" height="6.8" fill="#b01e10"/>
<rect x="438.44" y="151.34" width="8.42" height="8.42" fill="#4f0b0c"/>
<rect x="439.34" y="152.24" width="6.8" height="6.8" fill="#b02410"/>
<rect x="446.86" y="151.34" width="8.42" height="8.42" fill="#3c150b"/>
<rect x="447.76" y="152.24" width="6.8" height="6.8" fill="#c0c020"/>
<rect x="455.28" y="151.34" width="8.42" height="8.42" fill="#33132a"/>
<rect x="456.18" y="152.24" width="6.8" height="6.8" fill="#3060d0"/>
<rect x="295.3" y="159.76" width="8.42" height="8.42" fill="#43110c"/>
<rect x="296.2" y="160.66" width="6.8" height="6.8" fill="#d07020"/>
<rect x="303.72" y="159.76" width="8.42" height="8.42" fill="#52090c"/>
<rect x="304.62" y="160.66" width="6.8" height="6.8" fill="#b01810"/>
<rect x="312.14" y="159.76" width="8.42" height="8.42" fill="#3d140c"/>
<rect x="313.04" y="160.66" width="6.8" height="6.8" fill="#c0b020"/>
<rect x="320.56" y="159.76" width="8.42" height="8.42" fill="#52090c"/>
<rect x="321.46" y="160.66" width="6.8" height="6.8" fill="#b01810"/>
<rect x="328.98" y="159.76" width="8.42" height="8.42" fill="#40120c"/>
<rect x="329.88" y="160.66" width="6.8" height="6.8" fill="#d09020"/>
<rect x="337.4" y="159.76" width="8.42" height="8.42" fill="#42110d"/>
<rect x="338.3" y="160.66" width="6.8" height="6.8" fill="#c07020"/>
<rect x="345.82" y="159.76" width="8.42" height="8.42" fill="#3e130c"/>
<rect x="346.72" y="160.66" width="6.8" height="6.8" fill="#c0a020"/>
<rect x="354.24" y="159.76" width="8.42" height="8.42" fill="#510a0c"/>
<rect x="355.14" y="160.66" width="6.8" height="6.8" fill="#b01e10"/>
<rect x="362.66" y="159.76" width="8.42" height="8.42" fill="#3c1218"/>
<rect x="363.56" y="160.66" width="6.8" height="6.8" fill="#f8e0f0"/>
<rect x="371.08" y="159.76" width="8.42" height="8.42" fill="#4c0d0c"/>
<rect x="371.98" y="160.66" width="6.8" height="6.8" fill="#b03010"/>
<rect x="379.5" y="159.76" width="8.42" height="8.42" fill="#510a0c"/>
<rect x="380.4" y="160.66" width="6.8" height="6.8" fill="#b01e10"/>
<rect x="387.92" y="159.76" width="8.42" height="8.42" fill="#44100d"/>
<rect x="388.82" y="160.66" width="6.8" height="6.8" fill="#c06020"/>
<rect x="396.34" y="159.76" width="8.42" height="8.42" fill="#44100d"/>
<rect x="397.24" y="160.66" width="6.8" height="6.8" fill="#c06020"/>
<rect x="404.76" y="159.76" width="8.42" height="8.42" fill="#4f0b0c"/>
<rect x="405.66" y="160.66" width="6.8" height="6.8" fill="#b02410"/>
<rect x="413.18" y="159.76" width="8.42" height="8.42" fill="#3f130c"/>
<rect x="414.08" y="160.66" width="6.8" height="6.8" fill="#c09020"/>
<rect x="421.6" y="159.76" width="8.42" height="8.42" fill="#330b34"/>
<rect x="422.5" y="160.66" width="6.8" height="6.8" fill="#2020c0"/>
<rect x="430.02" y="159.76" width="8.42" height="8.42" fill="#4f0b0c"/>
<rect x="430.92" y="160.66" width="6.8" height="6.8" fill="#b02410"/>
<rect x="438.44" y="159.76" width="8.42" height="8.42" fill="#3d140c"/>
<rect x="439.34" y="160.66" width="6.8" height="6.8" fill="#c0b020"/>
<rect x="446.86" y="159.76" width="8.42" height="8.42" fill="#3b1318"/>
<rect x="447.76" y="160.66" width="6.8" height="6.8" fill="#f8f8f8"/>
<rect x="455.28" y="159.76" width="8.42" height="8.42" fill="#330f34"/>
<rect x="456.18" y="160.66" width="6.8" height="6.8" fill="#2030c0"/>
<rect x="295.3" y="168.18" width="8.42" height="8.42" fill="#43110c"/>
<rect x="296.2" y="169.08" width="6.8" height="6.8" fill="#d07020"/>
<rect x="303.72" y="168.18" width="8.42" height="8.42" fill="#42110d"/>
<rect x="304.62" y="169.08" width="6.8" height="6.8" fill="#c07020"/>
<rect x="312.14" y="168.18" width="8.42" height="8.42" fill="#33132a"/>
<rect x="313.04" y="169.08" width="6.8" height="6.8" fill="#3060d0"/>
<rect x="320.56" y="168.18" width="8.42" height="8.42" fill="#3b1318"/>
<rect x="321.46" y="169.08" width="6.8" height="6.8" fill="#f8f8f8"/>
<rect x="328.98" y="168.18" width="8.42" height="8.42" fill="#3b1318"/>
<rect x="329.88" y="169.08" width="6.8" height="6.8" fill="#f8f8f8"/>
<rect x="337.4" y="168.18" width="8.42" height="8.42" fill="#3e130c"/>
<rect x="338.3" y="169.08" width="6.8" height="6.8" fill="#c0a020"/>
<rect x="345.82" y="168.18" width="8.42" height="8.42" fill="#371516"/>
<rect x="346.72" y="169.08" width="6.8" height="6.8" fill="#70b080"/>
<rect x="354.24" y="168.18" width="8.42" height="8.42" fill="#4f0b0c"/>
<rect x="355.14" y="169.08" width="6.8" height="6.8" fill="#b02410"/>
<rect x="362.66" y="168.18" width="8.42" height="8.42" fill="#43110c"/>
<rect x="363.56" y="169.08" width="6.8" height="6.8" fill="#d07020"/>
<rect x="371.08" y="168.18" width="8.42" height="8.42" fill="#3e130c"/>
<rect x="371.98" y="169.08" width="6.8" height="6.8" fill="#c0a020"/>
<rect x="379.5" y="168.18" width="8.42" height="8.42" fill="#42110d"/>
<rect x="380.4" y="169.08" width="6.8" height="6.8" fill="#c07020"/>
<rect x="387.92" y="168.18" width="8.42" height="8.42" fill="#3b1315"/>
<rect x="388.82" y="169.08" width="6.8" height="6.8" fill="#b0b090"/>
<rect x="396.34" y="168.18" width="8.42" height="8.42" fill="#3d140c"/>
<rect x="397.24" y="169.08" width="6.8" height="6.8" fill="#a09020"/>
<rect x="404.76" y="168.18" width="8.42" height="8.42" fill="#42120c"/>
<rect x="405.66" y="169.08" width="6.8" height="6.8" fill="#d08020"/>
<rect x="413.18" y="168.18" width="8.42" height="8.42" fill="#4b0d0c"/>
<rect x="414.08" y="169.08" width="6.8" height="6.8" fill="#a03010"/>
<rect x="421.6" y="168.18" width="8.42" height="8.42" fill="#371030"/>
<rect x="422.5" y="169.08" width="6.8" height="6.8" fill="#4040d0"/>
<rect x="430.02" y="168.18" width="8.42" height="8.42" fill="#42110d"/>
<rect x="430.92" y="169.08" width="6.8" height="6.8" fill="#c07020"/>
<rect x="438.44" y="168.18" width="8.42" height="8.42" fill="#42110d"/>
<rect x="439.34" y="169.08" width="6.8" height="6.8" fill="#c07020"/>
<rect x="446.86" y="168.18" width="8.42" height="8.42" fill="#42110d"/>
<rect x="447.76" y="169.08" width="6.8" height="6.8" fill="#c07020"/>
<rect x="455.28" y="168.18" width="8.42" height="8.42" fill="#38131c"/>
<rect x="456.18" y="169.08" width="6.8" height="6.8" fill="#90b0e0"/>
<rect x="295.3" y="176.6" width="8.42" height="8.42" fill="#34122e"/>
<rect x="296.2" y="177.5" width="6.8" height="6.8" fill="#3050d0"/>
<rect x="303.72" y="176.6" width="8.42" height="8.42" fill="#330f34"/>
<rect x="304.62" y="177.5" width="6.8" height="6.8" fill="#2030c0"/>
<rect x="312.14" y="176.6" width="8.42" height="8.42" fill="#3f130c"/>
<rect x="313.04" y="177.5" width="6.8" height="6.8" fill="#c09020"/>
<rect x="320.56" y="176.6" width="8.42" height="8.42" fill="#33132a"/>
<rect x="321.46" y="177.5" width="6.8" height="6.8" fill="#3060d0"/>
<rect x="328.98" y="176.6" width="8.42" height="8.42" fill="#3b1318"/>
<rect x="329.88" y="177.5" width="6.8" height="6.8" fill="#f8f8f8"/>
<rect x="337.4" y="176.6" width="8.42" height="8.42" fill="#33132a"/>
<rect x="338.3" y="177.5" width="6.8" height="6.8" fill="#3060d0"/>
<rect x="345.82" y="176.6" width="8.42" height="8.42" fill="#371516"/>
<rect x="346.72" y="177.5" width="6.8" height="6.8" fill="#70b080"/>
<rect x="354.24" y="176.6" width="8.42" height="8.42" fill="#330b34"/>
<rect x="355.14" y="177.5" width="6.8" height="6.8" fill="#2020c0"/>
<rect x="362.66" y="176.6" width="8.42" height="8.42" fill="#39131c"/>
<rect x="363.56" y="177.5" width="6.8" height="6.8" fill="#90a8d8"/>
<rect x="371.08" y="176.6" width="8.42" height="8.42" fill="#34122e"/>
<rect x="371.98" y="177.5" width="6.8" height="6.8" fill="#3050d0"/>
<rect x="379.5" y="176.6" width="8.42" height="8.42" fill="#33132a"/>
<rect x="380.4" y="177.5" width="6.8" height="6.8" fill="#3060d0"/>
<rect x="387.92" y="176.6" width="8.42" height="8.42" fill="#341326"/>
<rect x="388.82" y="177.5" width="6.8" height="6.8" fill="#4070d0"/>
<rect x="396.34" y="176.6" width="8.42" height="8.42" fill="#34122e"/>
<rect x="397.24" y="177.5" width="6.8" height="6.8" fill="#3050d0"/>
<rect x="404.76" y="176.6" width="8.42" height="8.42" fill="#330f34"/>
<rect x="405.66" y="177.5" width="6.8" height="6.8" fill="#2030c0"/>
<rect x="413.18" y="176.6" width="8.42" height="8.42" fill="#36112c"/>
<rect x="414.08" y="177.5" width="6.8" height="6.8" fill="#4050d0"/>
<rect x="421.6" y="176.6" width="8.42" height="8.42" fill="#4b0d0c"/>
<rect x="422.5" y="177.5" width="6.8" height="6.8" fill="#a03010"/>
<rect x="430.02" y="176.6" width="8.42" height="8.42" fill="#351229"/>
<rect x="430.92" y="177.5" width="6.8" height="6.8" fill="#4060d0"/>
<rect x="438.44" y="176.6" width="8.42" height="8.42" fill="#39131c"/>
<rect x="439.34" y="177.5" width="6.8" height="6.8" fill="#a0b0e0"/>
<rect x="446.86" y="176.6" width="8.42" height="8.42" fill="#39131c"/>
<rect x="447.76" y="177.5" width="6.8" height="6.8" fill="#a0b0e0"/>
<rect x="455.28" y="176.6" width="8.42" height="8.42" fill="#42110d"/>
<rect x="456.18" y="177.5" width="6.8" height="6.8" fill="#c07020"/>
<rect x="295.3" y="185.02" width="8.42" height="8.42" fill="#42110d"/>
<rect x="296.2" y="185.92" width="6.8" height="6.8" fill="#c07020"/>
<rect x="303.72" y="185.02" width="8.42" height="8.42" fill="#42110d"/>
<rect x="304.62" y="185.92" width="6.8" height="6.8" fill="#c07020"/>
<rect x="312.14" y="185.02" width="8.42" height="8.42" fill="#44100d"/>
<rect x="313.04" y="185.92" width="6.8" height="6.8" fill="#c06020"/>
<rect x="320.56" y="185.02" width="8.42" height="8.42" fill="#42110d"/>
<rect x="321.46" y="185.92" width="6.8" height="6.8" fill="#c07020"/>
<rect x="328.98" y="185.02" width="8.42" height="8.42" fill="#52090c"/>
<rect x="329.88" y="185.92" width="6.8" height="6.8" fill="#b01810"/>
<rect x="337.4" y="185.02" width="8.42" height="8.42" fill="#42110d"/>
<rect x="338.3" y="185.92" width="6.8" height="6.8" fill="#c07020"/>
<rect x="345.82" y="185.02" width="8.42" height="8.42" fill="#3e130c"/>
<rect x="346.72" y="185.92" width="6.8" height="6.8" fill="#c0a020"/>
<rect x="354.24" y="185.02" width="8.42" height="8.42" fill="#42110d"/>
<rect x="355.14" y="185.92" width="6.8" height="6.8" fill="#c07020"/>
<rect x="362.66" y="185.02" width="8.42" height="8.42" fill="#3b1318"/>
<rect x="363.56" y="185.92" width="6.8" height="6.8" fill="#f8f0f8"/>
<rect x="371.08" y="185.02" width="8.42" height="8.42" fill="#4b0d0c"/>
<rect x="371.98" y="185.92" width="6.8" height="6.8" fill="#a03010"/>
<rect x="379.5" y="185.02" width="8.42" height="8.42" fill="#4f0b0c"/>
<rect x="380.4" y="185.92" width="6.8" height="6.8" fill="#b02410"/>
<rect x="387.92" y="185.02" width="8.42" height="8.42" fill="#40120c"/>
<rect x="388.82" y="185.92" width="6.8" height="6.8" fill="#d09020"/>
<rect x="396.34" y="185.02" width="8.42" height="8.42" fill="#4f0b0c"/>
<rect x="397.24" y="185.92" width="6.8" height="6.8" fill="#b02410"/>
<rect x="404.76" y="185.02" width="8.42" height="8.42" fill="#4f0b0c"/>
<rect x="405.66" y="185.92" width="6.8" height="6.8" fill="#b02410"/>
<rect x="413.18" y="185.02" width="8.42" height="8.42" fill="#3f130c"/>
<rect x="414.08" y="185.92" width="6.8" height="6.8" fill="#c09020"/>
<rect x="421.6" y="185.02" width="8.42" height="8.42" fill="#38112a"/>
<rect x="422.5" y="185.92" width="6.8" height="6.8" fill="#5050d0"/>
<rect x="430.02" y="185.02" width="8.42" height="8.42" fill="#4f0b0c"/>
<rect x="430.92" y="185.92" width="6.8" height="6.8" fill="#b02410"/>
<rect x="438.44" y="185.02" width="8.42" height="8.42" fill="#3e130c"/>
<rect x="439.34" y="185.92" width="6.8" height="6.8" fill="#c0a020"/>
<rect x="446.86" y="185.02" width="8.42" height="8.42" fill="#371517"/>
<rect x="447.76" y="185.92" width="6.8" height="6.8" fill="#80c0a0"/>
<rect x="455.28" y="185.02" width="8.42" height="8.42" fill="#34122e"/>
<rect x="456.18" y="185.92" width="6.8" height="6.8" fill="#3050d0"/>
<rect x="295.3" y="193.44" width="8.42" height="8.42" fill="#40120c"/>
<rect x="296.2" y="194.34" width="6.8" height="6.8" fill="#d09020"/>
<rect x="303.72" y="193.44" width="8.42" height="8.42" fill="#3e130c"/>
<rect x="304.62" y="194.34" width="6.8" height="6.8" fill="#c0a020"/>
<rect x="312.14" y="193.44" width="8.42" height="8.42" fill="#3b1318"/>
<rect x="313.04" y="194.34" width="6.8" height="6.8" fill="#f8f8f8"/>
<rect x="320.56" y="193.44" width="8.42" height="8.42" fill="#371517"/>
<rect x="321.46" y="194.34" width="6.8" height="6.8" fill="#70b090"/>
<rect x="328.98" y="193.44" width="8.42" height="8.42" fill="#40120c"/>
<rect x="329.88" y="194.34" width="6.8" height="6.8" fill="#d09020"/>
<rect x="337.4" y="193.44" width="8.42" height="8.42" fill="#3b1318"/>
<rect x="338.3" y="194.34" width="6.8" height="6.8" fill="#f8f8f8"/>
<rect x="345.82" y="193.44" width="8.42" height="8.42" fill="#351229"/>
<rect x="346.72" y="194.34" width="6.8" height="6.8" fill="#4060d0"/>
<rect x="354.24" y="193.44" width="8.42" height="8.42" fill="#4f0b0c"/>
<rect x="355.14" y="194.34" width="6.8" height="6.8" fill="#b02410"/>
<rect x="362.66" y="193.44" width="8.42" height="8.42" fill="#40120c"/>
<rect x="363.56" y="194.34" width="6.8" height="6.8" fill="#d09020"/>
<rect x="371.08" y="193.44" width="8.42" height="8.42" fill="#3f130c"/>
<rect x="371.98" y="194.34" width="6.8" height="6.8" fill="#c09020"/>
<rect x="379.5" y="193.44" width="8.42" height="8.42" fill="#40120c"/>
<rect x="380.4" y="194.34" width="6.8" height="6.8" fill="#d09020"/>
<rect x="387.92" y="193.44" width="8.42" height="8.42" fill="#3c111c"/>
<rect x="388.82" y="194.34" width="6.8" height="6.8" fill="#c0a0e0"/>
<rect x="396.34" y="193.44" width="8.42" height="8.42" fill="#4b0d0c"/>
<rect x="397.24" y="194.34" width="6.8" height="6.8" fill="#a03010"/>
<rect x="404.76" y="193.44" width="8.42" height="8.42" fill="#42120c"/>
<rect x="405.66" y="194.34" width="6.8" height="6.8" fill="#d08020"/>
<rect x="413.18" y="193.44" width="8.42" height="8.42" fill="#3f130d"/>
<rect x="414.08" y="194.34" width="6.8" height="6.8" fill="#a08020"/>
<rect x="421.6" y="193.44" width="8.42" height="8.42" fill="#3c111c"/>
<rect x="422.5" y="194.34" width="6.8" height="6.8" fill="#c0a0e0"/>
<rect x="430.02" y="193.44" width="8.42" height="8.42" fill="#41120c"/>
<rect x="430.92" y="194.34" width="6.8" height="6.8" fill="#c08020"/>
<rect x="438.44" y="193.44" width="8.42" height="8.42" fill="#4f0b0c"/>
<rect x="439.34" y="194.34" width="6.8" height="6.8" fill="#b02410"/>
<rect x="446.86" y="193.44" width="8.42" height="8.42" fill="#3d140c"/>
<rect x="447.76" y="194.34" width="6.8" height="6.8" fill="#c0b020"/>
<rect x="455.28" y="193.44" width="8.42" height="8.42" fill="#351229"/>
<rect x="456.18" y="194.34" width="6.8" height="6.8" fill="#4060d0"/>
<rect x="295.3" y="201.86" width="8.42" height="8.42" fill="#41120c"/>
<rect x="296.2" y="202.76" width="6.8" height="6.8" fill="#c08020"/>
<rect x="303.72" y="201.86" width="8.42" height="8.42" fill="#3c150b"/>
<rect x="304.62" y="202.76" width="6.8" height="6.8" fill="#c0c020"/>
<rect x="312.14" y="201.86" width="8.42" height="8.42" fill="#34122e"/>
<rect x="313.04" y="202.76" width="6.8" height="6.8" fill="#3050d0"/>
<rect x="320.56" y="201.86" width="8.42" height="8.42" fill="#33132a"/>
<rect x="321.46" y="202.76" width="6.8" height="6.8" fill="#3060d0"/>
<rect x="328.98" y="201.86" width="8.42" height="8.42" fill="#39131d"/>
<rect x="329.88" y="202.76" width="6.8" height="6.8" fill="#90a0d8"/>
<rect x="337.4" y="201.86" width="8.42" height="8.42" fill="#3b1318"/>
<rect x="338.3" y="202.76" width="6.8" height="6.8" fill="#f8f8f8"/>
<rect x="345.82" y="201.86" width="8.42" height="8.42" fill="#371517"/>
<rect x="346.72" y="202.76" width="6.8" height="6.8" fill="#70b090"/>
<rect x="354.24" y="201.86" width="8.42" height="8.42" fill="#40120c"/>
<rect x="355.14" y="202.76" width="6.8" height="6.8" fill="#d09020"/>
<rect x="362.66" y="201.86" width="8.42" height="8.42" fill="#4f0b0c"/>
<rect x="363.56" y="202.76" width="6.8" height="6.8" fill="#b02410"/>
<rect x="371.08" y="201.86" width="8.42" height="8.42" fill="#3c1218"/>
<rect x="371.98" y="202.76" width="6.8" height="6.8" fill="#f8e0f0"/>
<rect x="379.5" y="201.86" width="8.42" height="8.42" fill="#3c140c"/>
<rect x="380.4" y="202.76" width="6.8" height="6.8" fill="#b0b020"/>
<rect x="387.92" y="201.86" width="8.42" height="8.42" fill="#38112a"/>
<rect x="388.82" y="202.76" width="6.8" height="6.8" fill="#5050d0"/>
<rect x="396.34" y="201.86" width="8.42" height="8.42" fill="#3b150c"/>
<rect x="397.24" y="202.76" width="6.8" height="6.8" fill="#b0c020"/>
<rect x="404.76" y="201.86" width="8.42" height="8.42" fill="#3b1318"/>
<rect x="405.66" y="202.76" width="6.8" height="6.8" fill="#f8f0f8"/>
<rect x="413.18" y="201.86" width="8.42" height="8.42" fill="#3f130d"/>
<rect x="414.08" y="202.76" width="6.8" height="6.8" fill="#a08020"/>
<rect x="421.6" y="201.86" width="8.42" height="8.42" fill="#3b121c"/>
<rect x="422.5" y="202.76" width="6.8" height="6.8" fill="#b0a0e0"/>
<rect x="430.02" y="201.86" width="8.42" height="8.42" fill="#391416"/>
<rect x="430.92" y="202.76" width="6.8" height="6.8" fill="#90b090"/>
<rect x="438.44" y="201.86" width="8.42" height="8.42" fill="#3f130c"/>
<rect x="439.34" y="202.76" width="6.8" height="6.8" fill="#c09020"/>
<rect x="446.86" y="201.86" width="8.42" height="8.42" fill="#4f0b0c"/>
<rect x="447.76" y="202.76" width="6.8" height="6.8" fill="#b02410"/>
<rect x="455.28" y="201.86" width="8.42" height="8.42" fill="#3e130c"/>
<rect x="456.18" y="202.76" width="6.8" height="6.8" fill="#c0a020"/>
<rect x="295.3" y="210.28" width="8.42" height="8.42" fill="#3a121e"/>
<rect x="296.2" y="211.18" width="6.8" height="6.8" fill="#9090d8"/>
<rect x="303.72" y="210.28" width="8.42" height="8.42" fill="#351132"/>
<rect x="304.62" y="211.18" width="6.8" height="6.8" fill="#3040d0"/>
<rect x="312.14" y="210.28" width="8.42" height="8.42" fill="#39131d"/>
<rect x="313.04" y="211.18" width="6.8" height="6.8" fill="#90a0d8"/>
<rect x="320.56" y="210.28" width="8.42" height="8.42" fill="#34122e"/>
<rect x="321.46" y="211.18" width="6.8" height="6.8" fill="#3050d0"/>
<rect x="328.98" y="210.28" width="8.42" height="8.42" fill="#39131d"/>
<rect x="329.88" y="211.18" width="6.8" height="6.8" fill="#90a0d8"/>
<rect x="337.4" y="210.28" width="8.42" height="8.42" fill="#39131d"/>
<rect x="338.3" y="211.18" width="6.8" height="6.8" fill="#90a0d8"/>
<rect x="345.82" y="210.28" width="8.42" height="8.42" fill="#3b1318"/>
<rect x="346.72" y="211.18" width="6.8" height="6.8" fill="#f8f8f8"/>
<rect x="354.24" y="210.28" width="8.42" height="8.42" fill="#371030"/>
<rect x="355.14" y="211.18" width="6.8" height="6.8" fill="#4040d0"/>
<rect x="362.66" y="210.28" width="8.42" height="8.42" fill="#3e130c"/>
<rect x="363.56" y="211.18" width="6.8" height="6.8" fill="#c0a020"/>
<rect x="371.08" y="210.28" width="8.42" height="8.42" fill="#36112c"/>
<rect x="371.98" y="211.18" width="6.8" height="6.8" fill="#4050d0"/>
<rect x="379.5" y="210.28" width="8.42" height="8.42" fill="#36112c"/>
<rect x="380.4" y="211.18" width="6.8" height="6.8" fill="#4050d0"/>
<rect x="387.92" y="210.28" width="8.42" height="8.42" fill="#351229"/>
<rect x="388.82" y="211.18" width="6.8" height="6.8" fill="#4060d0"/>
<rect x="396.34" y="210.28" width="8.42" height="8.42" fill="#36112c"/>
<rect x="397.24" y="211.18" width="6.8" height="6.8" fill="#4050d0"/>
<rect x="404.76" y="210.28" width="8.42" height="8.42" fill="#330b34"/>
<rect x="405.66" y="211.18" width="6.8" height="6.8" fill="#2020c0"/>
<rect x="413.18" y="210.28" width="8.42" height="8.42" fill="#3b121c"/>
<rect x="414.08" y="211.18" width="6.8" height="6.8" fill="#b0a0e0"/>
<rect x="421.6" y="210.28" width="8.42" height="8.42" fill="#3f130d"/>
<rect x="422.5" y="211.18" width="6.8" height="6.8" fill="#a08020"/>
<rect x="430.02" y="210.28" width="8.42" height="8.42" fill="#36112c"/>
<rect x="430.92" y="211.18" width="6.8" height="6.8" fill="#4050d0"/>
<rect x="438.44" y="210.28" width="8.42" height="8.42" fill="#361325"/>
<rect x="439.34" y="211.18" width="6.8" height="6.8" fill="#5070d0"/>
<rect x="446.86" y="210.28" width="8.42" height="8.42" fill="#40120c"/>
<rect x="447.76" y="211.18" width="6.8" height="6.8" fill="#d09020"/>
<rect x="455.28" y="210.28" width="8.42" height="8.42" fill="#4f0b0c"/>
<rect x="456.18" y="211.18" width="6.8" height="6.8" fill="#b02410"/>
<rect x="295.7" y="50.7" width="167.6" height="167.6" fill="none" stroke="#1a0404" stroke-width="0.9"/>
<text x="467" y="57.71" class="rr">benzoic acid</text>
<text x="467" y="74.55" class="rr">chlorogenic acid</text>
<text x="467" y="91.39" class="rr">ferulic acid</text>
<text x="467" y="108.23" class="rr">m-cumaric acid</text>
<text x="467" y="125.07" class="rr">p-hydroxybenzoic acid</text>
<text x="467" y="141.91" class="rr">salicylic acid</text>
<text x="467" y="158.75" class="rr">syringic acid</text>
<text x="467" y="175.59" class="rr">vanillic acid</text>
<text x="467" y="192.43" class="rr">quercetin</text>
<text x="467" y="209.27" class="rr">luteolin</text>
<text x="299.51" y="230.4" class="rb" text-anchor="middle">benzoic acid</text>
<text x="358.45" y="230.4" class="rb" text-anchor="middle">p-cumaric acid</text>
<text x="417.39" y="230.4" class="rb" text-anchor="middle">vanillic acid</text>
<rect x="4.4" y="3.95" width="542.5" height="1.5" fill="#111"/>
<rect x="4.4" y="232.85" width="542.5" height="1.5" fill="#111"/>
<rect x="4.4" y="3.95" width="1.4" height="230.4" fill="#111"/>
<rect x="545.1" y="3.95" width="1.8" height="230.4" fill="#2a2a2a"/>
<rect x="259.9" y="5" width="1.1" height="228" fill="#5c5c5c"/>
<text x="128.9" y="246.2" class="cap" text-anchor="middle">(<tspan font-weight="bold">a</tspan>)</text>
<text x="406.8" y="246.2" class="cap" text-anchor="middle">(<tspan font-weight="bold">b</tspan>)</text>
</svg>
</body></html>
